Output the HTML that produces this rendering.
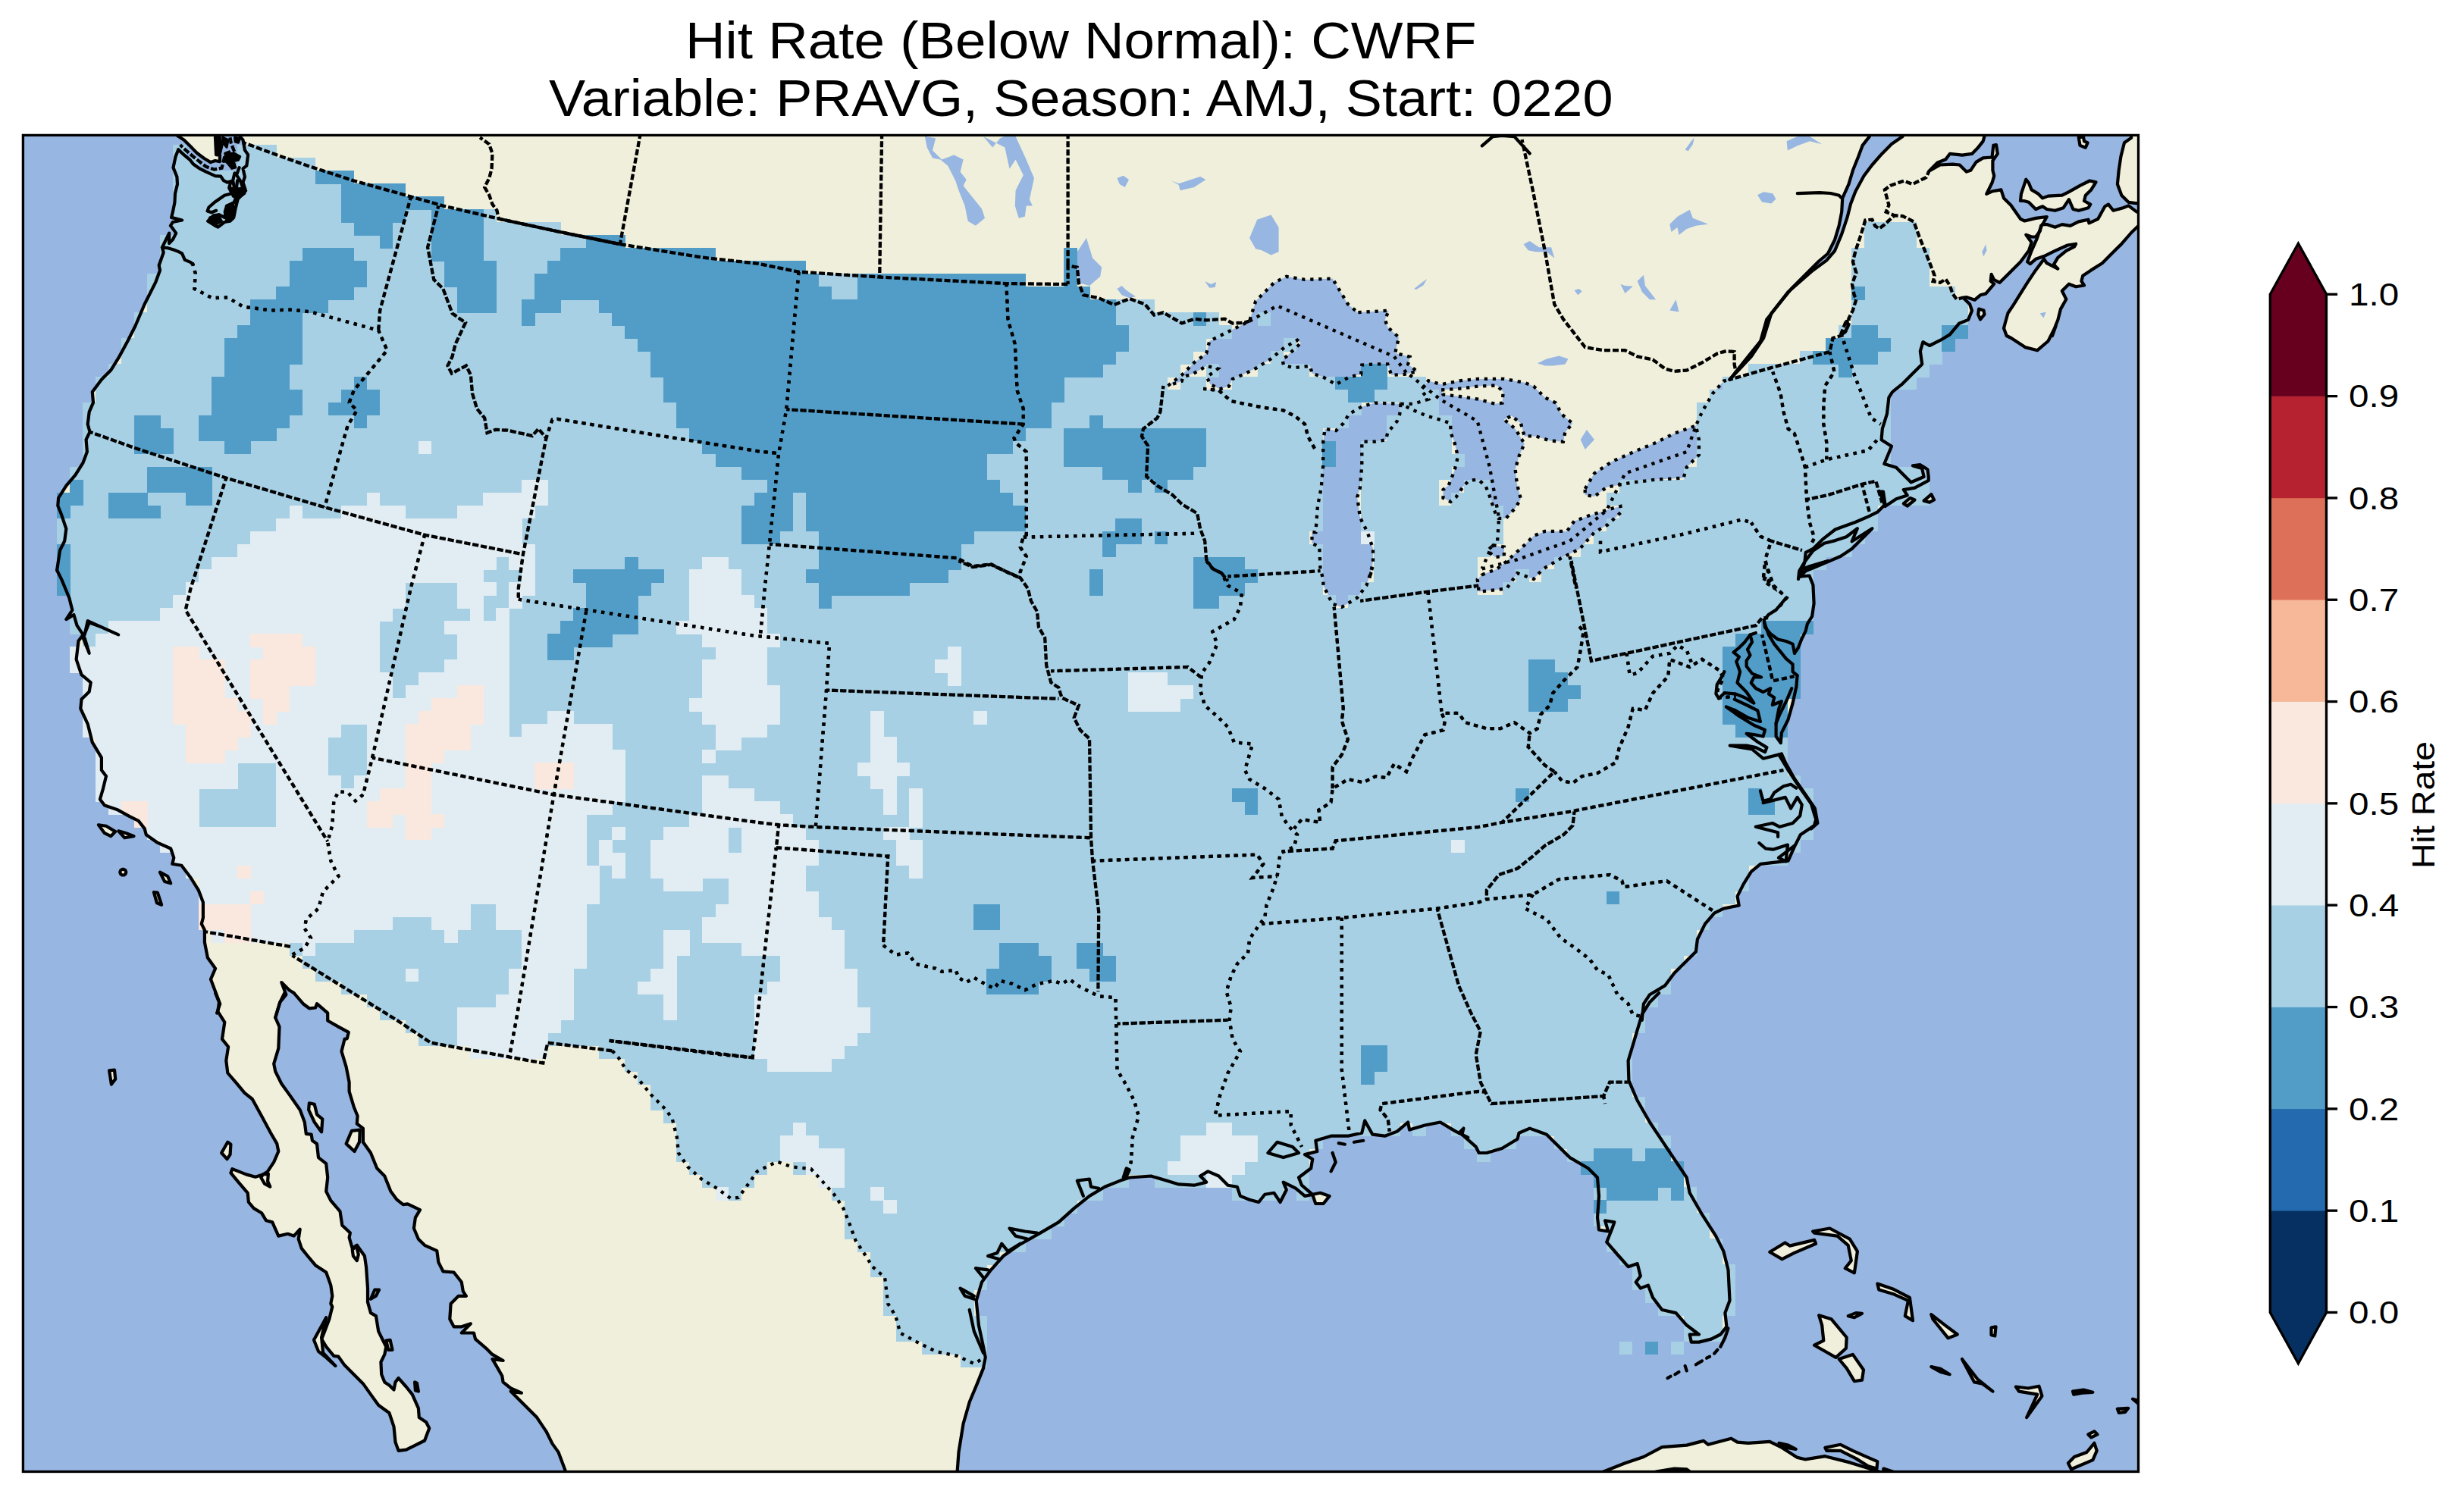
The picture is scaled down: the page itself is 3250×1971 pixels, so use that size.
<!DOCTYPE html>
<html><head><meta charset="utf-8"><title>Hit Rate (Below Normal): CWRF</title>
<style>
html,body{margin:0;padding:0;background:#fff;}
body{width:3250px;height:1971px;position:relative;overflow:hidden;font-family:"Liberation Sans",sans-serif;color:#000;}
.t{position:absolute;white-space:nowrap;line-height:1;transform-origin:0 0;}
</style></head><body>
<svg xmlns="http://www.w3.org/2000/svg" width="3250" height="1971" viewBox="0 0 3250 1971" style="position:absolute;left:0;top:0">
<defs><clipPath id="fr"><rect x="30.4" y="178.4" width="2790.1" height="1763.1"/></clipPath></defs>
<g clip-path="url(#fr)">
<rect x="0" y="150" width="2900" height="1821" fill="#97b6e1"/>
<path d="M312.5,161.9 320.5,177.3 320.5,184.6 304.6,239.4 299.8,240.6 294.9,238.2 291.2,232.7 283.9,232.1 271.8,226.6 263.2,222.4 254.7,216.3 251.1,211.4 242.5,204.1 235.2,197.4 231.6,206.5 228.5,221.1 233.4,233.3 234,243.1 231,255.2 230.4,267.4 227.9,279.6 226.1,286.9 240.1,290.5 227.9,293 224.9,297.8 227.9,301.5 232.2,307.6 227.9,316.1 223.1,321 223.1,307.6 213.9,326.5 215.7,333.1 209.7,350 211,356.7 205,372.9 190.7,401.3 178.6,429.7 168.4,450 156.2,472.4 146.1,488.6 133.9,500.8 121.8,517 123,531.2 117.7,543.4 115.7,559.6 118.5,569.8 113.6,579.9 114.9,596.1 109.6,610.3 99.4,626.6 87.3,640.8 77.1,657 76.3,667.2 81.2,679.3 87.3,697.6 85.2,713.8 79.1,726 75.1,752.4 75.1,752.2 81.2,764.4 91.3,788.7 95.4,804.9 87.3,817.1 97.4,811 101.5,825.2 109.6,837.4 103.5,845.5 100.6,869.9 107.5,890.2 119.7,900.3 117.7,912.5 107.5,922.6 106.3,934.8 115.7,955.1 121.8,979.4 133.9,999.7 133.9,1016 140,1024.1 136,1040.3 131.9,1054.5 138,1062.6 154.2,1067.9 170.5,1076.9 182.6,1082.9 190.7,1093.1 192.8,1101.2 207,1111.3 225.2,1119.5 229.3,1131.6 227.3,1139.8 239.4,1141.8 251.6,1158 261.8,1174.3 267.9,1190.5 267.9,1210.8 265.8,1218.9 269.9,1227 269.9,1243.2 273.9,1263.5 284.1,1277.7 278,1291.9 284.1,1310 289,1322.2 287.3,1334.4 296.3,1348.6 293,1370.9 301.1,1381 298.3,1399.3 300.3,1415.5 312.5,1429.7 322.6,1441.9 332.8,1450 345,1472.3 357.1,1494.7 365.3,1508.9 367.3,1519 361.2,1533.2 353.1,1545.4 347,1549.4 336.9,1552.7 324.7,1549.4 306.4,1542.1 304.4,1547.4 314.5,1559.6 326.7,1573.8 327.9,1586 334.8,1594.1 345,1600.2 351.1,1610.3 359.2,1612.4 367.3,1630.6 379.5,1627.8 387.6,1630.6 395.7,1621.7 393.7,1634.7 397.7,1646.9 405.8,1657 416,1669.2 430.2,1678.5 436.3,1695.6 438.3,1709.8 436.3,1719.9 438.3,1724 434.3,1740.2 428.2,1756.4 424.1,1766.6 430.2,1776.7 440.3,1788.9 446.4,1789.7 454.5,1801.1 466.7,1813.2 478.9,1825.4 489,1839.6 499.2,1853.8 513.4,1864 519.5,1882.2 521.5,1902.5 525.6,1913.9 535.7,1912.7 547.9,1906.6 560.1,1900.5 566.2,1884.3 562.1,1876.2 552.8,1870.1 551.9,1857.9 543.8,1839.6 535.7,1829.5 525.6,1818.1 521.5,1823.4 519.5,1833.5 513.4,1827.5 507.3,1823.4 503.2,1813.2 502.4,1797 507.3,1786.9 509.3,1776.7 503.2,1764.5 499.2,1756.4 495.9,1736.1 489,1732.1 485,1717.9 485,1699.6 483,1671.2 480.9,1657 470.8,1642.8 464.7,1646.9 460.6,1632.6 461.9,1626.6 451.3,1616.4 448.5,1598.1 436.3,1583.9 430.2,1571.8 432.2,1553.5 430.2,1535.2 420,1527.1 418,1508.9 411.9,1504.8 410.7,1496.7 403.8,1495.9 401.8,1480.5 395.7,1464.2 381.5,1443.9 371.3,1429.7 363.2,1413.5 361.2,1403.3 367.3,1383.1 368.5,1354.6 363.2,1342.5 369.3,1322.2 377.4,1312.2 371.3,1296 381.5,1306.2 387.6,1310 399.8,1324.2 407.9,1330.3 416,1329.5 418,1324.2 432.2,1336.4 432.2,1346.5 446.4,1354.6 459.8,1361.9 457.8,1370.1 454.5,1370.9 450.5,1387.1 456.6,1407.4 460.6,1427.7 460.6,1439.9 466.7,1460.2 471.6,1472.3 470.8,1482.5 478.9,1488.6 478.9,1506.8 489,1521 497.2,1541.3 507.3,1551.5 515.4,1571.8 523.5,1582.7 531.7,1589.2 537.7,1588.4 554,1596.1 547.9,1606.3 545.9,1620.5 551.9,1634.7 560.1,1642.8 576.3,1650.1 578.3,1665.1 584.4,1677.3 598.6,1678.5 608.8,1691.5 610.8,1703.7 614.9,1709.8 604.7,1709.8 594.6,1719.9 593.3,1740.2 598.6,1750.3 608.8,1750.3 620.9,1746.3 608.8,1758.5 625,1758.5 627,1766.6 641.2,1778.8 649.4,1786.9 663.6,1795 649.4,1793 655.4,1803.1 662.3,1815.3 663.6,1823.4 673.7,1831.5 687.9,1837.6 673.7,1835.6 689.9,1851.8 708.2,1870.1 720.4,1888.3 728.5,1904.6 736.6,1915.9 746.8,1943.1 1262.5,1943.1 1264.5,1915.9 1270.6,1878.2 1278.7,1849.8 1288.9,1825.4 1297,1805.1 1299.8,1790.9 1297,1776.7 1290.9,1748.3 1287.7,1715.8 1295,1691.5 1307.1,1675.3 1323.4,1657 1343.7,1642.8 1372.1,1626.6 1396.4,1612.4 1416.7,1594.1 1437,1577.9 1457.3,1565.7 1477.6,1557.6 1489.8,1553.5 1518.2,1551.5 1538.5,1557.6 1554.7,1562.4 1575,1563.7 1591.2,1559.6 1583.1,1551.5 1593.3,1545.4 1607.5,1551.5 1619.6,1563.7 1631.8,1565.7 1635.9,1577.9 1648.1,1582.7 1660.2,1586 1668.3,1575.8 1680.5,1573.8 1688.6,1586 1696.8,1569.7 1692.7,1559.6 1708.9,1567.7 1721.1,1577.9 1741.4,1573.8 1753.6,1577.9 1745.5,1588 1735.3,1588 1731.2,1575.8 1717,1563.7 1713,1553.5 1729.2,1541.3 1731.2,1529.2 1721.1,1523.1 1737.3,1519 1735.3,1504.8 1755.6,1498.7 1777.9,1498.7 1796.2,1494.7 1800.2,1478.4 1810.4,1496.7 1826.6,1498.7 1842.9,1492.6 1857.1,1480.5 1859.1,1490.6 1879.4,1484.5 1899.7,1480.5 1920,1492.6 1936.2,1500.7 1924.4,1494.7 1930.4,1488.6 1928.4,1496.7 1946.7,1512.9 1950.7,1521 1960.9,1521 1981.2,1515 2001.5,1502.8 2003.5,1494.7 2017.7,1488.6 2040,1496.7 2070.5,1527.1 2094.8,1541.3 2107,1553.5 2109,1577.9 2107,1606.3 2109,1622.5 2121.2,1624.5 2117.1,1610.3 2129.3,1612.4 2127.3,1618.4 2119.2,1638.7 2133.4,1655 2147.6,1671.2 2159.7,1667.1 2163.8,1683.4 2157.7,1691.5 2163.8,1699.6 2173.9,1695.6 2180,1711.8 2192.2,1728 2210.5,1732.1 2224.7,1748.3 2240.9,1760.5 2228.7,1760.5 2230.8,1770.6 2240.9,1770.6 2257.1,1766.6 2269.3,1760.5 2277.4,1750.3 2275.4,1732.1 2281.5,1715.8 2279.5,1675.3 2273.4,1650.9 2263.2,1630.6 2245,1602.2 2228.7,1573.8 2224.7,1553.5 2208.4,1529.2 2192.2,1504.8 2176,1480.5 2159.7,1452 2148.4,1425.7 2147.6,1399.3 2153.7,1379 2159.7,1358.7 2165.8,1338.4 2176,1322.2 2188.1,1310 2196.3,1300.1 2208.4,1283.8 2224.7,1267.6 2236.9,1255.4 2238.9,1239.2 2249,1218.9 2261.2,1204.7 2273.4,1198.6 2293.7,1194.5 2291.6,1182.4 2299.8,1166.1 2309.9,1149.9 2322.1,1139.8 2358.6,1135.7 2366.7,1117.4 2374.8,1101.2 2393.1,1089 2395.1,1080.9 2389,1060.6 2374.8,1040.3 2358.6,1016 2346.4,995.7 2348.7,980 2349.9,966.6 2358.5,949.5 2364.6,927.6 2369.4,905.7 2370.6,891.1 2364.6,886.2 2364.6,876.4 2356,869.1 2340.2,849.6 2332.9,837.5 2326.8,820.4 2349.9,796 2342.6,804.6 2332.9,810.7 2326.8,818 2328,827.7 2335.3,836.2 2345.1,843.5 2356,846 2364.6,849.6 2367,861.8 2371.9,854.5 2376.7,842.3 2381.6,832.6 2384,822.8 2390.1,813.1 2392.6,796 2391.4,771.7 2386.5,759.5 2373.1,760.7 2374.3,752.2 2386.5,747.3 2410.8,740 2373.2,753.3 2380.5,741.1 2381.7,728.9 2391.5,724 2403.6,711.9 2420.7,698.5 2447.5,688.7 2464.6,681.4 2476.7,675.3 2486.5,665.6 2484,648.5 2479.2,648.5 2486.5,668 2501.1,658.3 2515.7,653.4 2510.8,646.1 2525.5,643.6 2543.7,633.9 2543.7,629 2542.5,619.3 2532.8,613.2 2523,614.4 2535.2,618.1 2537.6,629 2520.6,636.3 2510.8,626.6 2501.1,616.8 2485.3,612 2495,588.8 2481.6,580.3 2482.8,565.7 2488.9,546.2 2491.4,524.3 2496.2,516.9 2508.4,507.2 2520.6,495 2535.2,480.4 2532.8,463.3 2536.4,451.2 2545,456 2559.6,448.7 2571.8,441.4 2583.9,426.8 2596.1,421.9 2601,409.7 2598.1,401.3 2589.9,393.2 2593.7,392 2604.7,395.7 2612,389.3 2619.3,387.4 2630.2,374.7 2625.7,371 2626.6,361.9 2630.2,369.2 2637.6,372.8 2646.7,363.7 2657.7,352.7 2665,345.4 2675.9,330.8 2679.6,319.8 2672.3,309.8 2679.6,312.5 2685.1,312.5 2690.5,305.2 2692.4,297.9 2686.9,314.4 2679.6,330.8 2674.1,345.4 2677.8,348.2 2685.1,341.8 2696,338.1 2710.6,330.8 2727.1,323.5 2738.1,321.7 2736.2,325.3 2725.3,330.8 2714.3,339.9 2708.8,349.1 2714.3,354.6 2699.7,347.2 2696,341.8 2685.1,356.4 2674.1,372.8 2665,387.4 2655.8,402.1 2648.5,413 2644.9,425.8 2643,433.1 2646.7,443 2652.8,446 2671.1,458.1 2687.3,462.2 2701.5,450 2711.7,429.7 2707,443 2710.6,431.3 2714.3,422.2 2718,407.6 2725.3,394.8 2719.8,383.8 2728.9,374.7 2738.1,378.3 2749,376.5 2745.4,371 2747.2,363.7 2758.2,356.4 2772.8,347.2 2783.7,336.3 2798.4,321.7 2811.1,307 2820.5,297.9 2827.6,296.1 2827.6,279.6 2818.5,279.6 2807.5,271.4 2800.2,274.2 2787.4,277.8 2781,269.6 2776.4,272.3 2767.3,288.8 2755.4,294.3 2754.5,289.7 2741.7,292.4 2730.7,297.9 2719.8,296.1 2710.6,299.7 2699.7,296.1 2694.2,296.1 2699.7,286 2685.1,287.9 2670.4,291.5 2665,288.8 2652.2,270.5 2643,261.4 2639.4,250.4 2628.4,252.2 2620.2,255.9 2627.5,241.3 2630.2,232.1 2628.4,224.8 2628.4,212 2634.8,202.9 2633,191 2629.3,191.9 2627.5,207.5 2615.6,208.4 2606.5,213.9 2599.2,224.8 2593.7,226.6 2584.6,217.5 2575.4,216.6 2559,217.5 2544.4,225.7 2555.3,214.8 2566.3,210.2 2571.8,202.9 2588.2,204.7 2601,202.9 2608.3,195.6 2615.6,186.4 2617.4,180.1 2617.4,151.7Z" fill="#efefdb"/>
<path d="M227.9,177.3 320.5,177.3 322.9,198 327.2,204.1 325.3,218.7 320.5,222.4 309.5,228.4 307.1,238.2 304.6,239.4 299.8,240.6 294.9,238.2 291.2,232.7 283.9,232.1 271.8,226.6 263.2,222.4 254.7,216.3 251.1,211.4 242.5,204.1 235.2,197.4 227.9,191.9Z" fill="#97b6e1"/>
<path d="M234,179.1 242.5,184.6 251.1,193.1 259.6,201.7 269.3,209 277.8,214.1 283.9,212 289.8,213.2 290,204.7 285.1,204.1 283.9,179.1 283.9,163.9 234,163.9Z" fill="#efefdb"/>
<path d="M2811.1,160.9 2811.1,181.9 2802,188.3 2797.4,206.5 2794.7,224.8 2792.9,243.1 2798.4,257.7 2807.5,266.8 2827.6,269.6 2827.6,160.9Z" fill="#efefdb"/>
<path d="M1540.5,508.9 1558.8,494.7 1575,478.4 1591.2,466.3 1595.3,450 1623.7,435.8 1648.1,423.7 1656.2,397.3 1680.5,372.9 1696.8,364.8 1721.1,368.9 1757.6,367.6 1765.7,381 1777.9,401.3 1790.1,411.5 1789,412.2 1811,411 1831.7,409.7 1826.8,421.9 1830.4,431.7 1845.1,445.1 1840.2,465.8 1859.7,470.7 1857.2,480.4 1869.4,490.1 1852.4,493.8 1835.3,495 1830.4,480.4 1813.4,480.4 1796.3,481.6 1795.1,493.8 1779.3,497.5 1762.2,507.2 1745.2,497.5 1730.5,492.6 1728.1,482.8 1706.2,485.3 1692.8,481.6 1691.6,473.1 1696.4,470.7 1715.9,452.4 1711.1,448.7 1694,458.5 1676.9,473.1 1657.5,485.3 1640.4,493.8 1625.8,499.9 1620.9,509.6 1608.7,513.3 1596.5,507.2 1591.7,497.5 1606.3,486.5 1591.7,482.8 1574.6,492.6 1560,497.5 1558.8,502.8Z" fill="#97b6e1"/>
<path d="M1847.5,532.8 1846.3,546.2 1842.6,555.9 1830.4,570.5 1828,580.3 1813.4,582.7 1796.3,582.7 1796.3,614.4 1793.9,643.6 1790.2,655.8 1793.9,682.6 1803.6,702.1 1811,724 1811,741.1 1806.1,764 1810.4,748.1 1802.3,772.5 1790.1,788.7 1769.8,800.9 1757.6,796.8 1745.5,772.5 1745.2,764 1741.5,750.8 1740.3,721.6 1730.5,716.7 1730.5,702.1 1735.4,702.1 1737.9,668 1742.7,643.6 1745.2,614.4 1745.2,582.7 1747.6,565.7 1762.2,568.1 1772,558.4 1779.3,546.2 1796.3,536.4 1813.4,531.6Z" fill="#97b6e1"/>
<path d="M1847.5,532.8 1864.6,532.8 1884,526.7 1874.3,514.5 1884,502.3 1901.1,507.2 1925.5,502.3 1949.8,499.9 1983.9,499.9 2010.7,504.8 2022.9,509.6 2037.5,524.3 2052.2,531.6 2059.5,546.2 2074.1,558.4 2064.3,570.5 2061.9,582.7 2044.8,581.5 2025.4,575.4 2010.7,575.4 2005.9,558.4 1993.7,548.6 1983.9,553.5 1998.6,565.7 2010.7,585.2 2003.4,602.2 1998.6,619.3 2001,638.8 2005.9,658.3 1998.6,670.4 1986.4,683.8 1976.6,683.8 1971.8,675.3 1964.4,653.4 1959.6,641.2 1949.8,632.7 1937.6,633.9 1930.3,641.2 1920.6,655.8 1913.3,661.9 1903.5,657 1903.5,646.1 1910.8,640 1918.2,621.7 1923,602.2 1918.2,582.7 1913.3,570.5 1913.3,558.4 1898.7,553.5 1881.6,548.6 1864.6,541.3Z" fill="#97b6e1"/>
<path d="M1969.3,719.2 1983.9,721.6 1983.9,733.8 1971.8,735 1962,726.5Z" fill="#97b6e1"/>
<path d="M1954.7,758.2 1974.2,750.8 1986.4,741.1 2010.7,719.2 2022.9,707 2037.5,700.9 2066.8,700.9 2076.5,687.5 2096,680.2 2127.7,670.4 2137.4,668 2138.6,675.3 2120.4,692.4 2103.3,702.1 2083.8,724 2059.5,736.2 2035.1,750.8 2022.9,764 2001.5,756.2 1987.3,776.5 1969,778.6 1950.7,780.6 1948.7,764.4Z" fill="#97b6e1"/>
<path d="M2090.7,644.8 2102.9,624.5 2127.3,608.3 2159.7,594.1 2184.1,584 2208.4,571.8 2236.9,561.6 2240.9,579.9 2240.9,600.2 2224.7,616.4 2220.6,630.6 2184.1,632.7 2151.6,636.7 2119.2,642.8 2102.9,655 2090.7,653Z" fill="#97b6e1"/>
<path d="M2236.9,561.6 2245,543.4 2259.2,519 2273.4,502.8 2281.5,500.8 2285.6,503.6 2265.3,523.1 2249.8,547.4 2242.9,565.7Z" fill="#97b6e1"/>
<path d="M2281.5,500.8 2305.8,470.3 2322.1,450 2330.2,421.6 2346.4,401.3 2362.7,381 2378.9,364.8 2399.2,344.5 2411,334.5 2420.1,316.2 2425.6,297.9 2429.2,279.6 2430.2,261.4 2438.4,243.1 2443.9,224.8 2451.2,206.5 2456.6,191.9 2465.8,180.1 2469.4,160.9 2516.9,160.9 2509.6,180.1 2495,190.1 2482.2,202.9 2469.4,217.5 2458.5,232.1 2447.5,252.2 2441.1,268.7 2436.5,286.9 2429.2,308.9 2420.1,330.8 2409.1,343.6 2391.1,356.7 2358.6,385.1 2336.3,413.5 2326.1,446 2309.9,470.3 2281.5,500.8Z" fill="#97b6e1"/>
<path d="M1901.1,514.5 1925.5,512.6 1949.8,509.6 1974.2,508.4 1982.7,516.9 1981.5,531.6 1971.8,532.8 1949.8,526.7 1925.5,523 1903.5,520.6Z" fill="#efefdb"/>
<path d="M1219.9,180.1 1234.1,182.2 1230,198.4 1242.2,210.6 1258.4,204.5 1270.6,210.6 1266.6,226.8 1274.7,237 1270.6,245.1 1278.7,255.2 1295,275.5 1299,287.7 1286.9,297.8 1276.7,291.8 1272.6,271.5 1264.5,251.2 1260.5,239 1250.3,218.7 1240.2,210.6 1230,208.6 1222.7,194.4Z" fill="#97b6e1"/>
<path d="M1297,180.1 1309.2,194.4 1319.3,182.2 1327.4,178.9 1339.6,180.1 1351.8,206.5 1364,234.9 1357.9,263.3 1361.9,271.5 1353.8,271.5 1351.8,285.7 1343.7,287.7 1338.8,271.5 1339.6,251.2 1349.8,230.9 1339.6,210.6 1331.5,222.8 1325.4,194.4Z" fill="#97b6e1"/>
<path d="M1420.8,332.3 1433,314.1 1441.1,340.5 1453.2,352.6 1451.2,364.8 1437,377 1422.8,372.9 1420.8,348.6Z" fill="#97b6e1"/>
<path d="M1648.1,314.1 1658.2,289.7 1676.5,283.6 1686.6,299.9 1686.6,332.3 1676.5,336.4 1664.3,330.3 1656.2,328.3Z" fill="#97b6e1"/>
<path d="M1473.5,234.9 1481.7,231.7 1489,237 1483.7,247.1 1476.8,243.1Z" fill="#97b6e1"/>
<path d="M1544.6,238.2 1554.7,242.2 1583.1,232.9 1590.4,237 1575,247.1 1556.7,251.2 1554.7,243.9Z" fill="#97b6e1"/>
<path d="M1589.2,370.9 1597.3,375 1604.2,372.1 1602.6,379 1595.3,379.8Z" fill="#97b6e1"/>
<path d="M1865.2,381 1875.3,372.9 1882.2,368.1 1877.4,376.2 1868,381.9Z" fill="#97b6e1"/>
<path d="M1473.5,381 1479.6,377 1485.7,383.1 1497.9,391.2 1489.8,393.2 1479.6,389.2Z" fill="#97b6e1"/>
<path d="M2318,257.3 2326.1,253.2 2338.3,255.2 2342.4,262.5 2336.3,268.6 2324.1,266.6Z" fill="#97b6e1"/>
<path d="M2202.4,295.8 2212.5,285.7 2228.7,276.7 2232.8,287.7 2253.1,295.8 2236.9,297.8 2224.7,301.9 2214.5,310 2212.5,299.9 2204.4,306Z" fill="#97b6e1"/>
<path d="M2009.6,322.2 2017.7,318.1 2029.9,326.2 2046.1,326.2 2050.2,340.5 2040,332.3 2025.8,332.3 2015.7,330.3Z" fill="#97b6e1"/>
<path d="M2137.4,375 2143.5,377 2153.7,377.8 2143.5,387.1Z" fill="#97b6e1"/>
<path d="M2159.7,370.9 2167.9,362.8 2169.9,377 2184.1,395.2 2176,395.2 2165.8,385.1Z" fill="#97b6e1"/>
<path d="M2202.4,409.4 2210.5,395.2 2214.5,411.5Z" fill="#97b6e1"/>
<path d="M2076.5,383.1 2082.6,381 2086.7,384.3 2081.4,389.2Z" fill="#97b6e1"/>
<path d="M2027.8,479.3 2040,473.6 2056.2,469.5 2068.4,473.6 2064.4,480.5 2048.1,482.5 2038,482.5Z" fill="#97b6e1"/>
<path d="M2084.7,579.9 2092.8,566.9 2102.9,579.9 2090.7,592.9Z" fill="#97b6e1"/>
<path d="M2356.6,186.2 2370.8,180.1 2387,180.1 2403.2,190.3 2387,186.2 2370.8,192.3 2357.8,198.4Z" fill="#97b6e1"/>
<path d="M2614.3,332.3 2619.2,322.2 2620.4,330.3 2616.3,338.4Z" fill="#97b6e1"/>
<path d="M2690.6,413.5 2698.7,411.5 2695.5,419.6Z" fill="#97b6e1"/>
<path d="M2222.6,197.6 2230.8,186.2 2234.8,181.4 2232.8,190.3 2226.7,199.2Z" fill="#97b6e1"/>
<path d="M228.2,191.4H245.8V209H228.2ZM313.3,191.4H365V209H313.3ZM228.2,208.4H262.9V225.9H228.2ZM313.3,208.4H416.1V225.9H313.3ZM228.2,225.3H416.1V242.9H228.2ZM228.2,242.3H450.2V259.9H228.2ZM228.2,259.3H450.2V276.9H228.2ZM228.2,276.3H450.2V293.8H228.2ZM534.7,276.3H569.4V293.8H534.7ZM636.9,276.3H654.5V293.8H636.9ZM228.2,293.2H467.2V310.8H228.2ZM517.7,293.2H569.4V310.8H517.7ZM636.9,293.2H739.7V310.8H636.9ZM2459.1,293.2H2527.9V310.8H2459.1ZM211.2,310.2H501.3V327.8H211.2ZM517.7,310.2H569.4V327.8H517.7ZM636.9,310.2H773.8V327.8H636.9ZM2459.1,310.2H2527.9V327.8H2459.1ZM211.2,327.2H399.1V344.7H211.2ZM466.6,327.2H569.4V344.7H466.6ZM636.9,327.2H739.7V344.7H636.9ZM2442.1,327.2H2544.9V344.7H2442.1ZM211.2,344.1H382.1V361.7H211.2ZM483.7,344.1H586.4V361.7H483.7ZM654,344.1H722.7V361.7H654ZM2442.1,344.1H2544.9V361.7H2442.1ZM194.1,361.1H382.1V378.7H194.1ZM483.7,361.1H586.4V378.7H483.7ZM654,361.1H705.6V378.7H654ZM1079.7,361.1H1131.4V378.7H1079.7ZM2442.1,361.1H2544.9V378.7H2442.1ZM194.1,378.1H365V395.7H194.1ZM466.6,378.1H603.5V395.7H466.6ZM654,378.1H705.6V395.7H654ZM1096.7,378.1H1131.4V395.7H1096.7ZM2459.1,378.1H2578.9V395.7H2459.1ZM194.1,395.1H331V412.6H194.1ZM432.6,395.1H603.5V412.6H432.6ZM654,395.1H688.6V412.6H654ZM739.1,395.1H790.8V412.6H739.1ZM1471.4,395.1H1523.1V412.6H1471.4ZM2442.1,395.1H2596V412.6H2442.1ZM177.1,412H331V429.6H177.1ZM398.5,412H688.6V429.6H398.5ZM705,412H807.8V429.6H705ZM1471.4,412H1574.2V429.6H1471.4ZM1590.6,412H1608.2V429.6H1590.6ZM1658.7,412H1676.4V429.6H1658.7ZM2442.1,412H2596V429.6H2442.1ZM177.1,429H313.9V446.6H177.1ZM398.5,429H824.9V446.6H398.5ZM1488.4,429H1625.3V446.6H1488.4ZM2425.1,429H2442.7V446.6H2425.1ZM2476.2,429H2561.9V446.6H2476.2ZM160.1,446H296.9V463.5H160.1ZM398.5,446H841.9V463.5H398.5ZM1488.4,446H1591.2V463.5H1488.4ZM1692.8,446H1710.4V463.5H1692.8ZM2493.2,446H2561.9V463.5H2493.2ZM160.1,462.9H296.9V480.5H160.1ZM398.5,462.9H858.9V480.5H398.5ZM1471.4,462.9H1574.2V480.5H1471.4ZM1675.8,462.9H1693.4V480.5H1675.8ZM2374,462.9H2391.6V480.5H2374ZM2476.2,462.9H2561.9V480.5H2476.2ZM143.1,479.9H296.9V497.5H143.1ZM381.5,479.9H858.9V497.5H381.5ZM1454.4,479.9H1557.1V497.5H1454.4ZM1590.6,479.9H1608.2V497.5H1590.6ZM1658.7,479.9H1727.4V497.5H1658.7ZM2305.9,479.9H2425.7V497.5H2305.9ZM2442.1,479.9H2544.9V497.5H2442.1ZM126,496.9H279.9V514.4H126ZM381.5,496.9H467.2V514.4H381.5ZM483.7,496.9H875.9V514.4H483.7ZM1403.3,496.9H1540.1V514.4H1403.3ZM1556.5,496.9H1591.2V514.4H1556.5ZM1624.7,496.9H1761.5V514.4H1624.7ZM1829,496.9H1880.7V514.4H1829ZM2271.8,496.9H2527.9V514.4H2271.8ZM126,513.9H279.9V531.4H126ZM398.5,513.9H450.2V531.4H398.5ZM500.7,513.9H875.9V531.4H500.7ZM1403.3,513.9H1778.5V531.4H1403.3ZM1812,513.9H1897.7V531.4H1812ZM2254.8,513.9H2493.8V531.4H2254.8ZM109,530.8H279.9V548.4H109ZM398.5,530.8H433.2V548.4H398.5ZM500.7,530.8H893V548.4H500.7ZM1386.2,530.8H1795.6V548.4H1386.2ZM1846.1,530.8H1897.7V548.4H1846.1ZM2237.7,530.8H2493.8V548.4H2237.7ZM109,547.8H177.7V565.4H109ZM211.2,547.8H262.9V565.4H211.2ZM381.5,547.8H467.2V565.4H381.5ZM483.7,547.8H893V565.4H483.7ZM1386.2,547.8H1437.9V565.4H1386.2ZM1454.4,547.8H1778.5V565.4H1454.4ZM1829,547.8H1914.8V565.4H1829ZM2237.7,547.8H2493.8V565.4H2237.7ZM109,564.8H177.7V582.3H109ZM228.2,564.8H262.9V582.3H228.2ZM364.4,564.8H910V582.3H364.4ZM1352.2,564.8H1403.9V582.3H1352.2ZM1590.6,564.8H1744.5V582.3H1590.6ZM1829,564.8H1914.8V582.3H1829ZM2237.7,564.8H2493.8V582.3H2237.7ZM109,581.7H177.7V599.3H109ZM228.2,581.7H296.9V599.3H228.2ZM330.4,581.7H552.4V599.3H330.4ZM568.8,581.7H927V599.3H568.8ZM1335.2,581.7H1403.9V599.3H1335.2ZM1590.6,581.7H1744.5V599.3H1590.6ZM1795,581.7H1914.8V599.3H1795ZM2237.7,581.7H2493.8V599.3H2237.7ZM109,598.7H944.1V616.3H109ZM1301.1,598.7H1403.9V616.3H1301.1ZM1590.6,598.7H1744.5V616.3H1590.6ZM1795,598.7H1931.8V616.3H1795ZM2237.7,598.7H2493.8V616.3H2237.7ZM92,615.7H194.7V633.2H92ZM279.3,615.7H978.1V633.2H279.3ZM1301.1,615.7H1455V633.2H1301.1ZM1573.6,615.7H1744.5V633.2H1573.6ZM1795,615.7H1914.8V633.2H1795ZM2220.7,615.7H2544.9V633.2H2220.7ZM109,632.6H194.7V650.2H109ZM279.3,632.6H688.6V650.2H279.3ZM722.1,632.6H1012.2V650.2H722.1ZM1318.1,632.6H1489V650.2H1318.1ZM1505.5,632.6H1523.1V650.2H1505.5ZM1539.5,632.6H1744.5V650.2H1539.5ZM1795,632.6H1897.7V650.2H1795ZM1931.2,632.6H1965.9V650.2H1931.2ZM2135.6,632.6H2544.9V650.2H2135.6ZM109,649.6H143.7V667.2H109ZM194.1,649.6H245.8V667.2H194.1ZM279.3,649.6H484.3V667.2H279.3ZM500.7,649.6H637.5V667.2H500.7ZM722.1,649.6H995.1V667.2H722.1ZM1045.6,649.6H1063.3V667.2H1045.6ZM1335.2,649.6H1744.5V667.2H1335.2ZM1795,649.6H1897.7V667.2H1795ZM1914.2,649.6H1965.9V667.2H1914.2ZM2118.5,649.6H2544.9V667.2H2118.5ZM92,666.6H143.7V684.2H92ZM211.2,666.6H382.1V684.2H211.2ZM398.5,666.6H450.2V684.2H398.5ZM534.7,666.6H603.5V684.2H534.7ZM705,666.6H978.1V684.2H705ZM1045.6,666.6H1063.3V684.2H1045.6ZM1352.2,666.6H1744.5V684.2H1352.2ZM1795,666.6H1982.9V684.2H1795ZM2135.6,666.6H2476.8V684.2H2135.6ZM74.9,683.6H365V701.1H74.9ZM688,683.6H978.1V701.1H688ZM1045.6,683.6H1063.3V701.1H1045.6ZM1352.2,683.6H1472V701.1H1352.2ZM1505.5,683.6H1744.5V701.1H1505.5ZM1795,683.6H1982.9V701.1H1795ZM2118.5,683.6H2476.8V701.1H2118.5ZM74.9,700.5H331V718.1H74.9ZM688,700.5H978.1V718.1H688ZM1028.6,700.5H1080.3V718.1H1028.6ZM1284.1,700.5H1455V718.1H1284.1ZM1505.5,700.5H1523.1V718.1H1505.5ZM1539.5,700.5H1727.4V718.1H1539.5ZM1812,700.5H1982.9V718.1H1812ZM2101.5,700.5H2459.7V718.1H2101.5ZM92,717.5H313.9V735.1H92ZM705,717.5H1080.3V735.1H705ZM1267,717.5H1455V735.1H1267ZM1471.4,717.5H1744.5V735.1H1471.4ZM1812,717.5H1965.9V735.1H1812ZM2084.5,717.5H2442.7V735.1H2084.5ZM92,734.5H279.9V752H92ZM654,734.5H671.6V752H654ZM705,734.5H824.9V752H705ZM841.3,734.5H927V752H841.3ZM960.5,734.5H1080.3V752H960.5ZM1267,734.5H1574.2V752H1267ZM1641.7,734.5H1744.5V752H1641.7ZM1812,734.5H1948.8V752H1812ZM2050.4,734.5H2408.6V752H2050.4ZM92,751.4H262.9V769H92ZM636.9,751.4H688.6V769H636.9ZM705,751.4H756.7V769H705ZM875.3,751.4H910V769H875.3ZM977.5,751.4H1063.3V769H977.5ZM1250,751.4H1437.9V769H1250ZM1454.4,751.4H1574.2V769H1454.4ZM1658.7,751.4H1744.5V769H1658.7ZM1812,751.4H1948.8V769H1812ZM1999.3,751.4H2017V769H1999.3ZM2033.4,751.4H2391.6V769H2033.4ZM92,768.4H245.8V786H92ZM534.7,768.4H603.5V786H534.7ZM654,768.4H671.6V786H654ZM705,768.4H773.8V786H705ZM858.3,768.4H910V786H858.3ZM977.5,768.4H1080.3V786H977.5ZM1198.9,768.4H1437.9V786H1198.9ZM1454.4,768.4H1574.2V786H1454.4ZM1641.7,768.4H1744.5V786H1641.7ZM1795,768.4H1948.8V786H1795ZM1982.3,768.4H2391.6V786H1982.3ZM92,785.4H228.8V803H92ZM534.7,785.4H603.5V803H534.7ZM636.9,785.4H671.6V803H636.9ZM688,785.4H773.8V803H688ZM841.3,785.4H910V803H841.3ZM994.6,785.4H1080.3V803H994.6ZM1096.7,785.4H1574.2V803H1096.7ZM1607.6,785.4H1761.5V803H1607.6ZM1777.9,785.4H2391.6V803H1777.9ZM92,802.4H211.8V819.9H92ZM517.7,802.4H620.5V819.9H517.7ZM636.9,802.4H654.5V819.9H636.9ZM671,802.4H756.7V819.9H671ZM841.3,802.4H910V819.9H841.3ZM1011.6,802.4H2391.6V819.9H1011.6ZM92,819.3H143.7V836.9H92ZM500.7,819.3H586.4V836.9H500.7ZM671,819.3H739.7V836.9H671ZM841.3,819.3H893V836.9H841.3ZM1011.6,819.3H2323.5V836.9H1011.6ZM109,836.3H126.6V853.9H109ZM500.7,836.3H603.5V853.9H500.7ZM671,836.3H722.7V853.9H671ZM807.2,836.3H927V853.9H807.2ZM1028.6,836.3H2289.4V853.9H1028.6ZM500.7,853.3H603.5V870.8H500.7ZM671,853.3H722.7V870.8H671ZM756.1,853.3H944.1V870.8H756.1ZM1011.6,853.3H1250.6V870.8H1011.6ZM1267,853.3H2272.4V870.8H1267ZM500.7,870.2H586.4V887.8H500.7ZM671,870.2H927V887.8H671ZM1011.6,870.2H1233.6V887.8H1011.6ZM1267,870.2H2017V887.8H1267ZM2050.4,870.2H2272.4V887.8H2050.4ZM517.7,887.2H552.4V904.8H517.7ZM671,887.2H927V904.8H671ZM1011.6,887.2H1250.6V904.8H1011.6ZM1267,887.2H1489V904.8H1267ZM1539.5,887.2H2017V904.8H1539.5ZM2067.4,887.2H2272.4V904.8H2067.4ZM517.7,904.2H535.3V921.8H517.7ZM671,904.2H927V921.8H671ZM1028.6,904.2H1489V921.8H1028.6ZM1573.6,904.2H2017V921.8H1573.6ZM2084.5,904.2H2272.4V921.8H2084.5ZM671,921.2H910V938.7H671ZM1028.6,921.2H1489V938.7H1028.6ZM1556.5,921.2H2017V938.7H1556.5ZM2067.4,921.2H2272.4V938.7H2067.4ZM671,938.1H722.7V955.7H671ZM756.1,938.1H927V955.7H756.1ZM1028.6,938.1H1148.4V955.7H1028.6ZM1164.9,938.1H1284.7V955.7H1164.9ZM1301.1,938.1H2272.4V955.7H1301.1ZM449.6,955.1H484.3V972.7H449.6ZM671,955.1H688.6V972.7H671ZM807.2,955.1H944.1V972.7H807.2ZM1011.6,955.1H1148.4V972.7H1011.6ZM1164.9,955.1H2289.4V972.7H1164.9ZM432.6,972.1H484.3V989.6H432.6ZM807.2,972.1H944.1V989.6H807.2ZM977.5,972.1H1148.4V989.6H977.5ZM1181.9,972.1H2357.6V989.6H1181.9ZM432.6,989H484.3V1006.6H432.6ZM824.3,989H927V1006.6H824.3ZM943.5,989H1148.4V1006.6H943.5ZM1181.9,989H2357.6V1006.6H1181.9ZM313.3,1006H365V1023.6H313.3ZM432.6,1006H484.3V1023.6H432.6ZM824.3,1006H1131.4V1023.6H824.3ZM1198.9,1006H2357.6V1023.6H1198.9ZM313.3,1023H365V1040.6H313.3ZM449.6,1023H467.2V1040.6H449.6ZM824.3,1023H927V1040.6H824.3ZM960.5,1023H1148.4V1040.6H960.5ZM1181.9,1023H2374.6V1040.6H1181.9ZM262.3,1040H365V1057.5H262.3ZM824.3,1040H927V1057.5H824.3ZM994.6,1040H1165.5V1057.5H994.6ZM1181.9,1040H1199.5V1057.5H1181.9ZM1215.9,1040H1625.3V1057.5H1215.9ZM1658.7,1040H1999.9V1057.5H1658.7ZM2016.4,1040H2306.5V1057.5H2016.4ZM2322.9,1040H2391.6V1057.5H2322.9ZM262.3,1056.9H365V1074.5H262.3ZM807.2,1056.9H927V1074.5H807.2ZM1028.6,1056.9H1165.5V1074.5H1028.6ZM1181.9,1056.9H1199.5V1074.5H1181.9ZM1215.9,1056.9H1642.3V1074.5H1215.9ZM1658.7,1056.9H2306.5V1074.5H1658.7ZM2339.9,1056.9H2391.6V1074.5H2339.9ZM262.3,1073.9H365V1091.5H262.3ZM773.2,1073.9H910V1091.5H773.2ZM1045.6,1073.9H1199.5V1091.5H1045.6ZM1215.9,1073.9H2391.6V1091.5H1215.9ZM773.2,1090.9H807.8V1108.4H773.2ZM824.3,1090.9H875.9V1108.4H824.3ZM960.5,1090.9H978.1V1108.4H960.5ZM1062.7,1090.9H1165.5V1108.4H1062.7ZM1198.9,1090.9H2391.6V1108.4H1198.9ZM773.2,1107.8H790.8V1125.4H773.2ZM807.2,1107.8H858.9V1125.4H807.2ZM960.5,1107.8H978.1V1125.4H960.5ZM1079.7,1107.8H1182.5V1125.4H1079.7ZM1215.9,1107.8H1914.8V1125.4H1215.9ZM1931.2,1107.8H2374.6V1125.4H1931.2ZM773.2,1124.8H790.8V1142.4H773.2ZM824.3,1124.8H858.9V1142.4H824.3ZM1079.7,1124.8H1182.5V1142.4H1079.7ZM1215.9,1124.8H2357.6V1142.4H1215.9ZM790.2,1141.8H807.8V1159.3H790.2ZM824.3,1141.8H858.9V1159.3H824.3ZM1062.7,1141.8H1199.5V1159.3H1062.7ZM1215.9,1141.8H2306.5V1159.3H1215.9ZM790.2,1158.7H875.9V1176.3H790.2ZM926.4,1158.7H961.1V1176.3H926.4ZM1062.7,1158.7H2306.5V1176.3H1062.7ZM790.2,1175.7H961.1V1193.3H790.2ZM1079.7,1175.7H2119.1V1193.3H1079.7ZM2135.6,1175.7H2289.4V1193.3H2135.6ZM619.9,1192.7H654.5V1210.3H619.9ZM773.2,1192.7H944.1V1210.3H773.2ZM1079.7,1192.7H1284.7V1210.3H1079.7ZM1318.1,1192.7H2272.4V1210.3H1318.1ZM517.7,1209.7H569.4V1227.2H517.7ZM619.9,1209.7H654.5V1227.2H619.9ZM773.2,1209.7H927V1227.2H773.2ZM1096.7,1209.7H1284.7V1227.2H1096.7ZM1318.1,1209.7H2255.4V1227.2H1318.1ZM466.6,1226.6H586.4V1244.2H466.6ZM602.9,1226.6H688.6V1244.2H602.9ZM773.2,1226.6H875.9V1244.2H773.2ZM909.4,1226.6H927V1244.2H909.4ZM1113.8,1226.6H2238.3V1244.2H1113.8ZM381.5,1243.6H399.1V1261.2H381.5ZM415.5,1243.6H688.6V1261.2H415.5ZM773.2,1243.6H875.9V1261.2H773.2ZM909.4,1243.6H978.1V1261.2H909.4ZM1113.8,1243.6H1318.7V1261.2H1113.8ZM1369.2,1243.6H1420.9V1261.2H1369.2ZM1454.4,1243.6H2238.3V1261.2H1454.4ZM398.5,1260.6H688.6V1278.1H398.5ZM773.2,1260.6H875.9V1278.1H773.2ZM892.4,1260.6H1029.2V1278.1H892.4ZM1113.8,1260.6H1318.7V1278.1H1113.8ZM1386.2,1260.6H1420.9V1278.1H1386.2ZM1471.4,1260.6H2221.3V1278.1H1471.4ZM415.5,1277.5H535.3V1295.1H415.5ZM551.8,1277.5H671.6V1295.1H551.8ZM756.1,1277.5H858.9V1295.1H756.1ZM892.4,1277.5H1029.2V1295.1H892.4ZM1130.8,1277.5H1301.7V1295.1H1130.8ZM1386.2,1277.5H1437.9V1295.1H1386.2ZM1471.4,1277.5H2204.3V1295.1H1471.4ZM449.6,1294.5H671.6V1312.1H449.6ZM756.1,1294.5H841.9V1312.1H756.1ZM892.4,1294.5H1012.2V1312.1H892.4ZM1130.8,1294.5H1301.7V1312.1H1130.8ZM1369.2,1294.5H2204.3V1312.1H1369.2ZM483.7,1311.5H654.5V1329.1H483.7ZM756.1,1311.5H875.9V1329.1H756.1ZM892.4,1311.5H995.1V1329.1H892.4ZM1130.8,1311.5H2187.2V1329.1H1130.8ZM500.7,1328.5H603.5V1346H500.7ZM756.1,1328.5H875.9V1346H756.1ZM892.4,1328.5H995.1V1346H892.4ZM1147.8,1328.5H2170.2V1346H1147.8ZM534.7,1345.4H603.5V1363H534.7ZM739.1,1345.4H995.1V1363H739.1ZM1147.8,1345.4H2170.2V1363H1147.8ZM551.8,1362.4H603.5V1380H551.8ZM722.1,1362.4H995.1V1380H722.1ZM1130.8,1362.4H2153.2V1380H1130.8ZM790.2,1379.4H995.1V1396.9H790.2ZM1113.8,1379.4H1795.6V1396.9H1113.8ZM1829,1379.4H2153.2V1396.9H1829ZM824.3,1396.3H1012.2V1413.9H824.3ZM1096.7,1396.3H1795.6V1413.9H1096.7ZM1829,1396.3H2153.2V1413.9H1829ZM841.3,1413.3H1795.6V1430.9H841.3ZM1812,1413.3H2153.2V1430.9H1812ZM858.3,1430.3H2153.2V1447.9H858.3ZM858.3,1447.3H2170.2V1464.8H858.3ZM875.3,1464.2H2170.2V1481.8H875.3ZM892.4,1481.2H1046.2V1498.8H892.4ZM1062.7,1481.2H1591.2V1498.8H1062.7ZM1624.7,1481.2H1846.7V1498.8H1624.7ZM1863.1,1481.2H1880.7V1498.8H1863.1ZM1914.2,1481.2H2187.2V1498.8H1914.2ZM892.4,1498.2H1029.2V1515.7H892.4ZM1079.7,1498.2H1557.1V1515.7H1079.7ZM1658.7,1498.2H1744.5V1515.7H1658.7ZM1931.2,1498.2H1999.9V1515.7H1931.2ZM2050.4,1498.2H2204.3V1515.7H2050.4ZM892.4,1515.1H1029.2V1532.7H892.4ZM1113.8,1515.1H1557.1V1532.7H1113.8ZM1658.7,1515.1H1727.4V1532.7H1658.7ZM1948.2,1515.1H1965.9V1532.7H1948.2ZM2067.4,1515.1H2102.1V1532.7H2067.4ZM2152.6,1515.1H2170.2V1532.7H2152.6ZM909.4,1532.1H1012.2V1549.7H909.4ZM1045.6,1532.1H1063.3V1549.7H1045.6ZM1113.8,1532.1H1540.1V1549.7H1113.8ZM1641.7,1532.1H1727.4V1549.7H1641.7ZM926.4,1549.1H995.1V1566.7H926.4ZM1113.8,1549.1H1489V1566.7H1113.8ZM1522.5,1549.1H1591.2V1566.7H1522.5ZM1624.7,1549.1H1727.4V1566.7H1624.7ZM960.5,1566.1H978.1V1583.6H960.5ZM1096.7,1566.1H1148.4V1583.6H1096.7ZM1164.9,1566.1H1455V1583.6H1164.9ZM1624.7,1566.1H1693.4V1583.6H1624.7ZM1709.8,1566.1H1727.4V1583.6H1709.8ZM2101.5,1566.1H2119.1V1583.6H2101.5ZM2186.6,1566.1H2204.3V1583.6H2186.6ZM2220.7,1566.1H2238.3V1583.6H2220.7ZM1113.8,1583H1165.5V1600.6H1113.8ZM1181.9,1583H1420.9V1600.6H1181.9ZM2118.5,1583H2238.3V1600.6H2118.5ZM1113.8,1600H1403.9V1617.6H1113.8ZM2101.5,1600H2255.4V1617.6H2101.5ZM1113.8,1617H1386.8V1634.5H1113.8ZM2118.5,1617H2255.4V1634.5H2118.5ZM1130.8,1633.9H1352.8V1651.5H1130.8ZM2118.5,1633.9H2272.4V1651.5H2118.5ZM1147.8,1650.9H1318.7V1668.5H1147.8ZM2135.6,1650.9H2272.4V1668.5H2135.6ZM1147.8,1667.9H1301.7V1685.4H1147.8ZM2152.6,1667.9H2289.4V1685.4H2152.6ZM1164.9,1684.8H1301.7V1702.4H1164.9ZM2152.6,1684.8H2289.4V1702.4H2152.6ZM1164.9,1701.8H1284.7V1719.4H1164.9ZM2169.6,1701.8H2289.4V1719.4H2169.6ZM1164.9,1718.8H1284.7V1736.4H1164.9ZM2186.6,1718.8H2289.4V1736.4H2186.6ZM1181.9,1735.8H1301.7V1753.3H1181.9ZM2220.7,1735.8H2272.4V1753.3H2220.7ZM1181.9,1752.7H1301.7V1770.3H1181.9ZM2220.7,1752.7H2272.4V1770.3H2220.7ZM1215.9,1769.7H1301.7V1787.3H1215.9ZM2135.6,1769.7H2153.2V1787.3H2135.6ZM2203.7,1769.7H2221.3V1787.3H2203.7ZM1267,1786.7H1301.7V1804.2H1267Z" fill="#a7d0e4" shape-rendering="crispEdges"/>
<path d="M415.5,225.3H467.2V242.9H415.5ZM449.6,242.3H535.3V259.9H449.6ZM449.6,259.3H586.4V276.9H449.6ZM449.6,276.3H535.3V293.8H449.6ZM568.8,276.3H637.5V293.8H568.8ZM466.6,293.2H518.3V310.8H466.6ZM568.8,293.2H637.5V310.8H568.8ZM500.7,310.2H518.3V327.8H500.7ZM568.8,310.2H637.5V327.8H568.8ZM773.2,310.2H824.9V327.8H773.2ZM398.5,327.2H467.2V344.7H398.5ZM568.8,327.2H637.5V344.7H568.8ZM739.1,327.2H944.1V344.7H739.1ZM1403.3,327.2H1420.9V344.7H1403.3ZM381.5,344.1H484.3V361.7H381.5ZM585.8,344.1H654.5V361.7H585.8ZM722.1,344.1H1063.3V361.7H722.1ZM1403.3,344.1H1420.9V361.7H1403.3ZM381.5,361.1H484.3V378.7H381.5ZM585.8,361.1H654.5V378.7H585.8ZM705,361.1H1080.3V378.7H705ZM1130.8,361.1H1352.8V378.7H1130.8ZM1403.3,361.1H1420.9V378.7H1403.3ZM364.4,378.1H467.2V395.7H364.4ZM602.9,378.1H654.5V395.7H602.9ZM705,378.1H1097.3V395.7H705ZM1130.8,378.1H1437.9V395.7H1130.8ZM2442.1,378.1H2459.7V395.7H2442.1ZM330.4,395.1H433.2V412.6H330.4ZM602.9,395.1H654.5V412.6H602.9ZM688,395.1H739.7V412.6H688ZM790.2,395.1H1472V412.6H790.2ZM330.4,412H399.1V429.6H330.4ZM688,412H705.6V429.6H688ZM807.2,412H1472V429.6H807.2ZM1573.6,412H1591.2V429.6H1573.6ZM313.3,429H399.1V446.6H313.3ZM824.3,429H1489V446.6H824.3ZM2442.1,429H2476.8V446.6H2442.1ZM2561.3,429H2596V446.6H2561.3ZM296.3,446H399.1V463.5H296.3ZM841.3,446H1489V463.5H841.3ZM2408,446H2493.8V463.5H2408ZM2561.3,446H2578.9V463.5H2561.3ZM296.3,462.9H399.1V480.5H296.3ZM858.3,462.9H1472V480.5H858.3ZM2391,462.9H2476.8V480.5H2391ZM296.3,479.9H382.1V497.5H296.3ZM858.3,479.9H1455V497.5H858.3ZM1795,479.9H1829.6V497.5H1795ZM2425.1,479.9H2442.7V497.5H2425.1ZM279.3,496.9H382.1V514.4H279.3ZM466.6,496.9H484.3V514.4H466.6ZM875.3,496.9H1403.9V514.4H875.3ZM1760.9,496.9H1829.6V514.4H1760.9ZM279.3,513.9H399.1V531.4H279.3ZM449.6,513.9H501.3V531.4H449.6ZM875.3,513.9H1403.9V531.4H875.3ZM1777.9,513.9H1812.6V531.4H1777.9ZM279.3,530.8H399.1V548.4H279.3ZM432.6,530.8H501.3V548.4H432.6ZM892.4,530.8H1386.8V548.4H892.4ZM177.1,547.8H211.8V565.4H177.1ZM262.3,547.8H382.1V565.4H262.3ZM466.6,547.8H484.3V565.4H466.6ZM892.4,547.8H1386.8V565.4H892.4ZM1437.3,547.8H1455V565.4H1437.3ZM177.1,564.8H228.8V582.3H177.1ZM262.3,564.8H365V582.3H262.3ZM909.4,564.8H1352.8V582.3H909.4ZM1403.3,564.8H1591.2V582.3H1403.3ZM177.1,581.7H228.8V599.3H177.1ZM296.3,581.7H331V599.3H296.3ZM926.4,581.7H1335.8V599.3H926.4ZM1403.3,581.7H1591.2V599.3H1403.3ZM1743.9,581.7H1761.5V599.3H1743.9ZM943.5,598.7H1301.7V616.3H943.5ZM1403.3,598.7H1591.2V616.3H1403.3ZM1743.9,598.7H1761.5V616.3H1743.9ZM194.1,615.7H279.9V633.2H194.1ZM977.5,615.7H1301.7V633.2H977.5ZM1454.4,615.7H1574.2V633.2H1454.4ZM92,632.6H109.6V650.2H92ZM194.1,632.6H279.9V650.2H194.1ZM1011.6,632.6H1318.7V650.2H1011.6ZM1488.4,632.6H1506.1V650.2H1488.4ZM1522.5,632.6H1540.1V650.2H1522.5ZM74.9,649.6H109.6V667.2H74.9ZM143.1,649.6H194.7V667.2H143.1ZM245.2,649.6H279.9V667.2H245.2ZM994.6,649.6H1046.2V667.2H994.6ZM1062.7,649.6H1335.8V667.2H1062.7ZM74.9,666.6H92.6V684.2H74.9ZM143.1,666.6H211.8V684.2H143.1ZM977.5,666.6H1046.2V684.2H977.5ZM1062.7,666.6H1352.8V684.2H1062.7ZM977.5,683.6H1046.2V701.1H977.5ZM1062.7,683.6H1352.8V701.1H1062.7ZM1471.4,683.6H1506.1V701.1H1471.4ZM977.5,700.5H1029.2V718.1H977.5ZM1079.7,700.5H1284.7V718.1H1079.7ZM1454.4,700.5H1506.1V718.1H1454.4ZM1522.5,700.5H1540.1V718.1H1522.5ZM74.9,717.5H92.6V735.1H74.9ZM1079.7,717.5H1267.6V735.1H1079.7ZM1454.4,717.5H1472V735.1H1454.4ZM74.9,734.5H92.6V752H74.9ZM824.3,734.5H841.9V752H824.3ZM1079.7,734.5H1267.6V752H1079.7ZM1573.6,734.5H1642.3V752H1573.6ZM74.9,751.4H92.6V769H74.9ZM756.1,751.4H875.9V769H756.1ZM1062.7,751.4H1250.6V769H1062.7ZM1437.3,751.4H1455V769H1437.3ZM1573.6,751.4H1659.3V769H1573.6ZM74.9,768.4H92.6V786H74.9ZM773.2,768.4H858.9V786H773.2ZM1079.7,768.4H1199.5V786H1079.7ZM1437.3,768.4H1455V786H1437.3ZM1573.6,768.4H1642.3V786H1573.6ZM773.2,785.4H841.9V803H773.2ZM1079.7,785.4H1097.3V803H1079.7ZM1573.6,785.4H1608.2V803H1573.6ZM756.1,802.4H841.9V819.9H756.1ZM739.1,819.3H841.9V836.9H739.1ZM2322.9,819.3H2391.6V836.9H2322.9ZM722.1,836.3H807.8V853.9H722.1ZM2288.8,836.3H2374.6V853.9H2288.8ZM722.1,853.3H756.7V870.8H722.1ZM2271.8,853.3H2374.6V870.8H2271.8ZM2016.4,870.2H2051V887.8H2016.4ZM2271.8,870.2H2374.6V887.8H2271.8ZM2016.4,887.2H2068V904.8H2016.4ZM2271.8,887.2H2374.6V904.8H2271.8ZM2016.4,904.2H2085.1V921.8H2016.4ZM2271.8,904.2H2374.6V921.8H2271.8ZM2016.4,921.2H2068V938.7H2016.4ZM2271.8,921.2H2357.6V938.7H2271.8ZM2271.8,938.1H2357.6V955.7H2271.8ZM2288.8,955.1H2357.6V972.7H2288.8ZM1624.7,1040H1659.3V1057.5H1624.7ZM1999.3,1040H2017V1057.5H1999.3ZM2305.9,1040H2323.5V1057.5H2305.9ZM1641.7,1056.9H1659.3V1074.5H1641.7ZM2305.9,1056.9H2340.5V1074.5H2305.9ZM2118.5,1175.7H2136.2V1193.3H2118.5ZM1284.1,1192.7H1318.7V1210.3H1284.1ZM1284.1,1209.7H1318.7V1227.2H1284.1ZM1318.1,1243.6H1369.8V1261.2H1318.1ZM1420.3,1243.6H1455V1261.2H1420.3ZM1318.1,1260.6H1386.8V1278.1H1318.1ZM1420.3,1260.6H1472V1278.1H1420.3ZM1301.1,1277.5H1386.8V1295.1H1301.1ZM1437.3,1277.5H1472V1295.1H1437.3ZM1301.1,1294.5H1369.8V1312.1H1301.1ZM1795,1379.4H1829.6V1396.9H1795ZM1795,1396.3H1829.6V1413.9H1795ZM1795,1413.3H1812.6V1430.9H1795ZM2101.5,1515.1H2153.2V1532.7H2101.5ZM2169.6,1515.1H2204.3V1532.7H2169.6ZM2084.5,1532.1H2221.3V1549.7H2084.5ZM2101.5,1549.1H2221.3V1566.7H2101.5ZM2118.5,1566.1H2187.2V1583.6H2118.5ZM2203.7,1566.1H2221.3V1583.6H2203.7ZM2101.5,1583H2119.1V1600.6H2101.5ZM2169.6,1769.7H2187.2V1787.3H2169.6Z" fill="#529dc8" shape-rendering="crispEdges"/>
<path d="M551.8,581.7H569.4V599.3H551.8ZM688,632.6H722.7V650.2H688ZM483.7,649.6H501.3V667.2H483.7ZM636.9,649.6H722.7V667.2H636.9ZM381.5,666.6H399.1V684.2H381.5ZM449.6,666.6H535.3V684.2H449.6ZM602.9,666.6H705.6V684.2H602.9ZM364.4,683.6H688.6V701.1H364.4ZM330.4,700.5H688.6V718.1H330.4ZM1795,700.5H1812.6V718.1H1795ZM313.3,717.5H705.6V735.1H313.3ZM279.3,734.5H654.5V752H279.3ZM671,734.5H705.6V752H671ZM926.4,734.5H961.1V752H926.4ZM262.3,751.4H637.5V769H262.3ZM688,751.4H705.6V769H688ZM909.4,751.4H978.1V769H909.4ZM245.2,768.4H535.3V786H245.2ZM602.9,768.4H654.5V786H602.9ZM671,768.4H705.6V786H671ZM909.4,768.4H978.1V786H909.4ZM228.2,785.4H535.3V803H228.2ZM602.9,785.4H637.5V803H602.9ZM671,785.4H688.6V803H671ZM909.4,785.4H995.1V803H909.4ZM211.2,802.4H518.3V819.9H211.2ZM619.9,802.4H637.5V819.9H619.9ZM654,802.4H671.6V819.9H654ZM909.4,802.4H1012.2V819.9H909.4ZM143.1,819.3H501.3V836.9H143.1ZM585.8,819.3H671.6V836.9H585.8ZM892.4,819.3H1012.2V836.9H892.4ZM126,836.3H331V853.9H126ZM398.5,836.3H501.3V853.9H398.5ZM602.9,836.3H671.6V853.9H602.9ZM926.4,836.3H1029.2V853.9H926.4ZM92,853.3H228.8V870.8H92ZM262.3,853.3H348V870.8H262.3ZM415.5,853.3H501.3V870.8H415.5ZM602.9,853.3H671.6V870.8H602.9ZM943.5,853.3H1012.2V870.8H943.5ZM1250,853.3H1267.6V870.8H1250ZM92,870.2H228.8V887.8H92ZM296.3,870.2H331V887.8H296.3ZM415.5,870.2H501.3V887.8H415.5ZM585.8,870.2H671.6V887.8H585.8ZM926.4,870.2H1012.2V887.8H926.4ZM1233,870.2H1267.6V887.8H1233ZM109,887.2H228.8V904.8H109ZM296.3,887.2H331V904.8H296.3ZM415.5,887.2H518.3V904.8H415.5ZM551.8,887.2H671.6V904.8H551.8ZM926.4,887.2H1012.2V904.8H926.4ZM1250,887.2H1267.6V904.8H1250ZM1488.4,887.2H1540.1V904.8H1488.4ZM109,904.2H228.8V921.8H109ZM296.3,904.2H331V921.8H296.3ZM381.5,904.2H518.3V921.8H381.5ZM534.7,904.2H603.5V921.8H534.7ZM636.9,904.2H671.6V921.8H636.9ZM926.4,904.2H1029.2V921.8H926.4ZM1488.4,904.2H1574.2V921.8H1488.4ZM109,921.2H228.8V938.7H109ZM313.3,921.2H348V938.7H313.3ZM381.5,921.2H569.4V938.7H381.5ZM636.9,921.2H671.6V938.7H636.9ZM909.4,921.2H1029.2V938.7H909.4ZM1488.4,921.2H1557.1V938.7H1488.4ZM109,938.1H228.8V955.7H109ZM330.4,938.1H348V955.7H330.4ZM364.4,938.1H552.4V955.7H364.4ZM636.9,938.1H671.6V955.7H636.9ZM722.1,938.1H756.7V955.7H722.1ZM926.4,938.1H1029.2V955.7H926.4ZM1147.8,938.1H1165.5V955.7H1147.8ZM1284.1,938.1H1301.7V955.7H1284.1ZM109,955.1H245.8V972.7H109ZM330.4,955.1H450.2V972.7H330.4ZM483.7,955.1H535.3V972.7H483.7ZM619.9,955.1H671.6V972.7H619.9ZM688,955.1H807.8V972.7H688ZM943.5,955.1H1012.2V972.7H943.5ZM1147.8,955.1H1165.5V972.7H1147.8ZM126,972.1H245.8V989.6H126ZM313.3,972.1H433.2V989.6H313.3ZM483.7,972.1H535.3V989.6H483.7ZM619.9,972.1H807.8V989.6H619.9ZM943.5,972.1H978.1V989.6H943.5ZM1147.8,972.1H1182.5V989.6H1147.8ZM126,989H245.8V1006.6H126ZM296.3,989H433.2V1006.6H296.3ZM483.7,989H535.3V1006.6H483.7ZM585.8,989H824.9V1006.6H585.8ZM926.4,989H944.1V1006.6H926.4ZM1147.8,989H1182.5V1006.6H1147.8ZM126,1006H313.9V1023.6H126ZM364.4,1006H433.2V1023.6H364.4ZM483.7,1006H535.3V1023.6H483.7ZM568.8,1006H705.6V1023.6H568.8ZM756.1,1006H824.9V1023.6H756.1ZM1130.8,1006H1199.5V1023.6H1130.8ZM126,1023H313.9V1040.6H126ZM364.4,1023H450.2V1040.6H364.4ZM466.6,1023H535.3V1040.6H466.6ZM568.8,1023H705.6V1040.6H568.8ZM756.1,1023H824.9V1040.6H756.1ZM926.4,1023H961.1V1040.6H926.4ZM1147.8,1023H1182.5V1040.6H1147.8ZM126,1040H262.9V1057.5H126ZM364.4,1040H501.3V1057.5H364.4ZM568.8,1040H824.9V1057.5H568.8ZM926.4,1040H995.1V1057.5H926.4ZM1164.9,1040H1182.5V1057.5H1164.9ZM1198.9,1040H1216.5V1057.5H1198.9ZM143.1,1056.9H160.7V1074.5H143.1ZM194.1,1056.9H262.9V1074.5H194.1ZM364.4,1056.9H484.3V1074.5H364.4ZM568.8,1056.9H807.8V1074.5H568.8ZM926.4,1056.9H1029.2V1074.5H926.4ZM1164.9,1056.9H1182.5V1074.5H1164.9ZM1198.9,1056.9H1216.5V1074.5H1198.9ZM194.1,1073.9H262.9V1091.5H194.1ZM364.4,1073.9H484.3V1091.5H364.4ZM517.7,1073.9H535.3V1091.5H517.7ZM585.8,1073.9H773.8V1091.5H585.8ZM909.4,1073.9H1046.2V1091.5H909.4ZM1198.9,1073.9H1216.5V1091.5H1198.9ZM194.1,1090.9H535.3V1108.4H194.1ZM568.8,1090.9H773.8V1108.4H568.8ZM807.2,1090.9H824.9V1108.4H807.2ZM875.3,1090.9H961.1V1108.4H875.3ZM977.5,1090.9H1063.3V1108.4H977.5ZM1164.9,1090.9H1199.5V1108.4H1164.9ZM211.2,1107.8H773.8V1125.4H211.2ZM790.2,1107.8H807.8V1125.4H790.2ZM858.3,1107.8H961.1V1125.4H858.3ZM977.5,1107.8H1080.3V1125.4H977.5ZM1181.9,1107.8H1216.5V1125.4H1181.9ZM1914.2,1107.8H1931.8V1125.4H1914.2ZM228.2,1124.8H773.8V1142.4H228.2ZM790.2,1124.8H824.9V1142.4H790.2ZM858.3,1124.8H1080.3V1142.4H858.3ZM1181.9,1124.8H1216.5V1142.4H1181.9ZM245.2,1141.8H313.9V1159.3H245.2ZM330.4,1141.8H790.8V1159.3H330.4ZM807.2,1141.8H824.9V1159.3H807.2ZM858.3,1141.8H1063.3V1159.3H858.3ZM1198.9,1141.8H1216.5V1159.3H1198.9ZM262.3,1158.7H790.8V1176.3H262.3ZM875.3,1158.7H927V1176.3H875.3ZM960.5,1158.7H1063.3V1176.3H960.5ZM262.3,1175.7H331V1193.3H262.3ZM347.4,1175.7H790.8V1193.3H347.4ZM960.5,1175.7H1080.3V1193.3H960.5ZM330.4,1192.7H620.5V1210.3H330.4ZM654,1192.7H773.8V1210.3H654ZM943.5,1192.7H1080.3V1210.3H943.5ZM330.4,1209.7H518.3V1227.2H330.4ZM568.8,1209.7H620.5V1227.2H568.8ZM654,1209.7H773.8V1227.2H654ZM926.4,1209.7H1097.3V1227.2H926.4ZM279.3,1226.6H296.9V1244.2H279.3ZM330.4,1226.6H467.2V1244.2H330.4ZM585.8,1226.6H603.5V1244.2H585.8ZM688,1226.6H773.8V1244.2H688ZM875.3,1226.6H910V1244.2H875.3ZM926.4,1226.6H1114.4V1244.2H926.4ZM398.5,1243.6H416.1V1261.2H398.5ZM688,1243.6H773.8V1261.2H688ZM875.3,1243.6H910V1261.2H875.3ZM977.5,1243.6H1114.4V1261.2H977.5ZM688,1260.6H773.8V1278.1H688ZM875.3,1260.6H893V1278.1H875.3ZM1028.6,1260.6H1114.4V1278.1H1028.6ZM534.7,1277.5H552.4V1295.1H534.7ZM671,1277.5H756.7V1295.1H671ZM858.3,1277.5H893V1295.1H858.3ZM1028.6,1277.5H1131.4V1295.1H1028.6ZM671,1294.5H756.7V1312.1H671ZM841.3,1294.5H893V1312.1H841.3ZM1011.6,1294.5H1131.4V1312.1H1011.6ZM654,1311.5H756.7V1329.1H654ZM875.3,1311.5H893V1329.1H875.3ZM994.6,1311.5H1131.4V1329.1H994.6ZM602.9,1328.5H756.7V1346H602.9ZM875.3,1328.5H893V1346H875.3ZM994.6,1328.5H1148.4V1346H994.6ZM602.9,1345.4H739.7V1363H602.9ZM994.6,1345.4H1148.4V1363H994.6ZM602.9,1362.4H722.7V1380H602.9ZM994.6,1362.4H1131.4V1380H994.6ZM619.9,1379.4H722.7V1396.9H619.9ZM994.6,1379.4H1114.4V1396.9H994.6ZM1011.6,1396.3H1097.3V1413.9H1011.6ZM1045.6,1481.2H1063.3V1498.8H1045.6ZM1590.6,1481.2H1625.3V1498.8H1590.6ZM1028.6,1498.2H1080.3V1515.7H1028.6ZM1556.5,1498.2H1659.3V1515.7H1556.5ZM1028.6,1515.1H1114.4V1532.7H1028.6ZM1556.5,1515.1H1659.3V1532.7H1556.5ZM1062.7,1532.1H1114.4V1549.7H1062.7ZM1539.5,1532.1H1642.3V1549.7H1539.5ZM1079.7,1549.1H1114.4V1566.7H1079.7ZM1590.6,1549.1H1625.3V1566.7H1590.6ZM943.5,1566.1H961.1V1583.6H943.5ZM1147.8,1566.1H1165.5V1583.6H1147.8ZM1164.9,1583H1182.5V1600.6H1164.9Z" fill="#e1edf3" shape-rendering="crispEdges"/>
<path d="M330.4,836.3H399.1V853.9H330.4ZM228.2,853.3H262.9V870.8H228.2ZM347.4,853.3H416.1V870.8H347.4ZM228.2,870.2H296.9V887.8H228.2ZM330.4,870.2H416.1V887.8H330.4ZM228.2,887.2H296.9V904.8H228.2ZM330.4,887.2H416.1V904.8H330.4ZM228.2,904.2H296.9V921.8H228.2ZM330.4,904.2H382.1V921.8H330.4ZM602.9,904.2H637.5V921.8H602.9ZM228.2,921.2H313.9V938.7H228.2ZM347.4,921.2H382.1V938.7H347.4ZM568.8,921.2H637.5V938.7H568.8ZM228.2,938.1H331V955.7H228.2ZM347.4,938.1H365V955.7H347.4ZM551.8,938.1H637.5V955.7H551.8ZM245.2,955.1H331V972.7H245.2ZM534.7,955.1H620.5V972.7H534.7ZM245.2,972.1H313.9V989.6H245.2ZM534.7,972.1H620.5V989.6H534.7ZM245.2,989H296.9V1006.6H245.2ZM534.7,989H586.4V1006.6H534.7ZM534.7,1006H569.4V1023.6H534.7ZM705,1006H756.7V1023.6H705ZM534.7,1023H569.4V1040.6H534.7ZM705,1023H756.7V1040.6H705ZM500.7,1040H569.4V1057.5H500.7ZM160.1,1056.9H194.7V1074.5H160.1ZM483.7,1056.9H569.4V1074.5H483.7ZM177.1,1073.9H194.7V1091.5H177.1ZM483.7,1073.9H518.3V1091.5H483.7ZM534.7,1073.9H586.4V1091.5H534.7ZM534.7,1090.9H569.4V1108.4H534.7ZM313.3,1141.8H331V1159.3H313.3ZM330.4,1175.7H348V1193.3H330.4ZM262.3,1192.7H331V1210.3H262.3ZM262.3,1209.7H331V1227.2H262.3ZM296.3,1226.6H331V1244.2H296.3Z" fill="#fae8de" shape-rendering="crispEdges"/>
<g fill="none" stroke="#000" stroke-width="4.2" stroke-linejoin="round" stroke-linecap="round">
<path d="M304.6,239.4 299.8,240.6 294.9,238.2 291.2,232.7 283.9,232.1 271.8,226.6 263.2,222.4 254.7,216.3 251.1,211.4 242.5,204.1 235.2,197.4"/>
<path d="M213.9,326.5 220.6,327.1 229.1,329.5 235.2,331.9 240.1,334.4 243.8,342.9 251.1,345.9 254.7,349"/>
<path d="M75.1,752.2 81.2,764.4 91.3,788.7 95.4,804.9 87.3,817.1 97.4,811 101.5,825.2 109.6,837.4 103.5,845.5 100.6,869.9 107.5,890.2 119.7,900.3 117.7,912.5 107.5,922.6 106.3,934.8 115.7,955.1 121.8,979.4 133.9,999.7 133.9,1016 140,1024.1 136,1040.3 131.9,1054.5 138,1062.6 154.2,1067.9 170.5,1076.9 182.6,1082.9 190.7,1093.1 192.8,1101.2 207,1111.3 225.2,1119.5 229.3,1131.6 227.3,1139.8 239.4,1141.8 251.6,1158 261.8,1174.3 267.9,1190.5 267.9,1210.8 265.8,1218.9 269.9,1227 269.9,1243.2 273.9,1263.5 284.1,1277.7 278,1291.9 284.1,1308.2 290.2,1324.4 286.1,1336.6"/>
<path d="M284.1,1310 289,1322.2 287.3,1334.4 296.3,1348.6 293,1370.9 301.1,1381 298.3,1399.3 300.3,1415.5 312.5,1429.7 322.6,1441.9 332.8,1450 345,1472.3 357.1,1494.7 365.3,1508.9 367.3,1519 361.2,1533.2 353.1,1545.4 347,1549.4 336.9,1552.7 324.7,1549.4 306.4,1542.1 304.4,1547.4 314.5,1559.6 326.7,1573.8 327.9,1586 334.8,1594.1 345,1600.2 351.1,1610.3 359.2,1612.4 367.3,1630.6 379.5,1627.8 387.6,1630.6 395.7,1621.7 393.7,1634.7 397.7,1646.9 405.8,1657 416,1669.2 430.2,1678.5 436.3,1695.6 438.3,1709.8 436.3,1719.9 438.3,1724 434.3,1740.2 428.2,1756.4 424.1,1766.6 430.2,1776.7 440.3,1788.9 446.4,1789.7 454.5,1801.1 466.7,1813.2 478.9,1825.4 489,1839.6 499.2,1853.8 513.4,1864 519.5,1882.2 521.5,1902.5 525.6,1913.9 535.7,1912.7 547.9,1906.6 560.1,1900.5 566.2,1884.3 562.1,1876.2 552.8,1870.1 551.9,1857.9 543.8,1839.6 535.7,1829.5 525.6,1818.1 521.5,1823.4 519.5,1833.5 513.4,1827.5 507.3,1823.4 503.2,1813.2 502.4,1797 507.3,1786.9 509.3,1776.7 503.2,1764.5 499.2,1756.4 495.9,1736.1 489,1732.1 485,1717.9 485,1699.6 483,1671.2 480.9,1657 470.8,1642.8 464.7,1646.9 460.6,1632.6 461.9,1626.6 451.3,1616.4 448.5,1598.1 436.3,1583.9 430.2,1571.8 432.2,1553.5 430.2,1535.2 420,1527.1 418,1508.9 411.9,1504.8 410.7,1496.7 403.8,1495.9 401.8,1480.5 395.7,1464.2 381.5,1443.9 371.3,1429.7 363.2,1413.5 361.2,1403.3 367.3,1383.1 368.5,1354.6 363.2,1342.5 369.3,1322.2 375.4,1310"/>
<path d="M387.6,1310 399.8,1324.2 407.9,1330.3 416,1329.5 418,1324.2 432.2,1336.4 432.2,1346.5 446.4,1354.6 459.8,1361.9 457.8,1370.1 454.5,1370.9 450.5,1387.1 456.6,1407.4 460.6,1427.7 460.6,1439.9 466.7,1460.2 471.6,1472.3 470.8,1482.5 478.9,1488.6 478.9,1506.8 489,1521 497.2,1541.3 507.3,1551.5 515.4,1571.8 523.5,1582.7 531.7,1589.2 537.7,1588.4 554,1596.1 547.9,1606.3 545.9,1620.5 551.9,1634.7 560.1,1642.8 576.3,1650.1 578.3,1665.1 584.4,1677.3 598.6,1678.5 608.8,1691.5 610.8,1703.7 614.9,1709.8 604.7,1709.8 594.6,1719.9 593.3,1740.2 598.6,1750.3 608.8,1750.3 620.9,1746.3 608.8,1758.5 625,1758.5 627,1766.6 641.2,1778.8 649.4,1786.9 663.6,1795 649.4,1793 655.4,1803.1 662.3,1815.3 663.6,1823.4 673.7,1831.5 687.9,1837.6 673.7,1835.6 689.9,1851.8 708.2,1870.1 720.4,1888.3 728.5,1904.6 736.6,1915.9 746.8,1943.1"/>
<path d="M1262.5,1943.1 1264.5,1915.9 1270.6,1878.2 1278.7,1849.8 1288.9,1825.4 1297,1805.1 1299.8,1790.9 1297,1776.7 1290.9,1748.3 1287.7,1715.8 1295,1691.5 1307.1,1675.3 1323.4,1657 1343.7,1642.8 1372.1,1626.6 1396.4,1612.4 1416.7,1594.1 1437,1577.9 1457.3,1565.7 1477.6,1557.6 1489.8,1553.5 1518.2,1551.5 1538.5,1557.6 1554.7,1562.4 1575,1563.7 1591.2,1559.6 1583.1,1551.5 1593.3,1545.4 1607.5,1551.5 1619.6,1563.7 1631.8,1565.7 1635.9,1577.9 1648.1,1582.7 1660.2,1586 1668.3,1575.8 1680.5,1573.8 1688.6,1586 1696.8,1569.7 1692.7,1559.6 1708.9,1567.7 1721.1,1577.9 1741.4,1573.8 1753.6,1577.9 1745.5,1588 1735.3,1588 1731.2,1575.8 1717,1563.7 1713,1553.5 1729.2,1541.3 1731.2,1529.2 1721.1,1523.1 1737.3,1519 1735.3,1504.8 1755.6,1498.7 1777.9,1498.7 1796.2,1494.7 1800.2,1478.4 1810.4,1496.7 1826.6,1498.7 1842.9,1492.6 1857.1,1480.5 1859.1,1490.6 1879.4,1484.5 1899.7,1480.5 1920,1492.6 1936.2,1500.7"/>
<path d="M1924.4,1494.7 1930.4,1488.6 1928.4,1496.7 1946.7,1512.9 1950.7,1521 1960.9,1521 1981.2,1515 2001.5,1502.8 2003.5,1494.7 2017.7,1488.6 2040,1496.7 2070.5,1527.1 2094.8,1541.3 2107,1553.5 2109,1577.9 2107,1606.3 2109,1622.5 2121.2,1624.5 2117.1,1610.3 2129.3,1612.4 2127.3,1618.4 2119.2,1638.7 2133.4,1655 2147.6,1671.2 2159.7,1667.1 2163.8,1683.4 2157.7,1691.5 2163.8,1699.6 2173.9,1695.6 2180,1711.8 2192.2,1728 2210.5,1732.1 2224.7,1748.3 2240.9,1760.5 2228.7,1760.5 2230.8,1770.6 2240.9,1770.6 2257.1,1766.6 2269.3,1760.5 2277.4,1750.3 2275.4,1732.1 2281.5,1715.8 2279.5,1675.3 2273.4,1650.9 2263.2,1630.6 2245,1602.2 2228.7,1573.8 2224.7,1553.5 2208.4,1529.2 2192.2,1504.8 2176,1480.5 2159.7,1452 2148.4,1425.7 2147.6,1399.3 2153.7,1379 2159.7,1358.7 2165.8,1338.4 2176,1322.2 2188.1,1310"/>
<path d="M2165.8,1345.9 2167.9,1324.4 2176,1312.2 2196.3,1300.1 2208.4,1283.8 2224.7,1267.6 2236.9,1255.4 2238.9,1239.2 2249,1218.9 2261.2,1204.7 2273.4,1198.6 2293.7,1194.5 2291.6,1182.4 2299.8,1166.1 2309.9,1149.9 2322.1,1139.8 2358.6,1135.7 2366.7,1117.4 2374.8,1101.2 2393.1,1089 2395.1,1080.9 2389,1060.6 2374.8,1040.3 2358.6,1016 2346.4,995.7"/>
<path d="M2349.9,994.6 2356,1008 2367,1027.5 2384,1051.9 2393.8,1066.5 2397.4,1086 2388.9,1093.3"/>
<path d="M2370.6,891.1 2369.4,905.7 2364.6,927.6 2358.5,949.5 2349.9,966.6 2348.7,980"/>
<path d="M2363.3,908.1 2356,925.2 2347.5,942.2 2342.6,954.4 2342.6,971.5 2348.7,980"/>
<path d="M2342.6,954.4 2346.3,934.9 2349.9,925.2 2337.8,930 2340.2,920.3 2332.9,915.4 2335.3,908.1 2325.6,913 2315.8,908.1 2309.7,900.8 2313.4,893.5 2323.1,893.5 2311,888.6 2303.6,878.9 2303.6,871.6 2308.5,864.3 2304.9,856.9 2311,847.2 2308.5,837.5 2315.8,835"/>
<path d="M2308.5,837.5 2301.2,847.2 2293.9,854.5 2286.6,860.6 2293.9,866.7 2290.2,872.8 2295.1,886.2 2291.5,900.8 2303.6,913 2313.4,927.6 2301.2,920.3 2289,915.4 2274.4,914.2 2267.1,921.5 2263.4,915.4 2264.7,903.2 2272,891.1 2274.4,886.2"/>
<path d="M2287.8,922.7 2303.6,930 2318.3,937.3 2321.9,952 2306.1,947.1 2289,937.3 2276.8,932.5 2293.9,944.7 2313.4,956.8 2328,962.9 2325.6,971.5 2313.4,969 2303.6,967.8 2318.3,978.8 2330.4,986.1 2328,992.2 2315.8,986.1 2303.6,983.6 2281.7,983.6 2311,988.5 2325.6,1000.7 2349.9,994.6"/>
<path d="M2326.8,820.4 2332.9,837.5 2340.2,849.6 2356,869.1 2364.6,876.4 2364.6,886.2 2370.6,891.1"/>
<path d="M2367,861.8 2364.6,849.6 2356,846 2345.1,843.5 2335.3,836.2 2328,827.7 2326.8,818 2332.9,810.7 2342.6,804.6 2349.9,796 2356,788.7"/>
<path d="M2410.8,740 2386.5,747.3 2374.3,752.2 2373.1,760.7 2386.5,759.5 2391.4,771.7 2392.6,796 2390.1,813.1 2384,822.8 2381.6,832.6 2376.7,842.3 2371.9,854.5 2367,861.8"/>
<path d="M2321.9,1043.3 2325.6,1056.7 2335.3,1054.3 2340.2,1045.8 2352.4,1037.2 2362.1,1034.8 2369.4,1039.7"/>
<path d="M2325.6,1059.2 2354.8,1051.9 2362.1,1066.5 2370.6,1051.9 2376.7,1061.6 2374.3,1076.2 2364.6,1086 2347.5,1090.8 2337.8,1086 2315.8,1090.8 2345.1,1098.2 2345.1,1104"/>
<path d="M2320.3,1112.2 2328.8,1119.5 2338.6,1120.7 2358,1114.6 2355.6,1136.5 2345.9,1131.7 2366.6,1115.8"/>
<path d="M2372,764 2373.2,753.3 2380.5,741.1 2381.7,728.9 2391.5,724 2403.6,711.9 2420.7,698.5 2447.5,688.7 2464.6,681.4 2476.7,675.3 2486.5,665.6 2484,648.5 2479.2,648.5 2486.5,668 2501.1,658.3 2515.7,653.4 2510.8,646.1 2525.5,643.6 2543.7,633.9 2543.7,629 2542.5,619.3 2532.8,613.2 2523,614.4 2535.2,618.1 2537.6,629 2520.6,636.3 2510.8,626.6 2501.1,616.8 2485.3,612 2495,588.8 2481.6,580.3 2482.8,565.7 2488.9,546.2 2491.4,524.3 2496.2,516.9 2508.4,507.2 2520.6,495 2535.2,480.4 2532.8,463.3 2536.4,451.2 2545,456 2559.6,448.7 2571.8,441.4 2583.9,426.8 2596.1,421.9 2601,409.7 2598.1,401.3 2589.9,393.2"/>
<path d="M2391.5,726.5 2406.1,716.7 2420.7,713.1 2435.3,708.2 2449.9,697.2 2442.6,714.3 2469.4,697.2 2459.7,707 2442.6,724 2428,733.8 2411,741.1 2393.9,748.4 2381.7,753.3 2374.4,760.6 2380.5,741.1 2391.5,726.5"/>
<path d="M2588.2,392.9 2593.7,392 2604.7,395.7 2612,389.3 2619.3,387.4 2630.2,374.7 2625.7,371 2626.6,361.9 2630.2,369.2 2637.6,372.8 2646.7,363.7 2657.7,352.7 2665,345.4 2675.9,330.8 2679.6,319.8 2672.3,309.8 2679.6,312.5 2685.1,312.5 2690.5,305.2 2692.4,297.9"/>
<path d="M2692.4,297.9 2686.9,314.4 2679.6,330.8 2674.1,345.4 2677.8,348.2 2685.1,341.8 2696,338.1 2710.6,330.8 2727.1,323.5 2738.1,321.7 2736.2,325.3 2725.3,330.8 2714.3,339.9 2708.8,349.1 2714.3,354.6 2699.7,347.2 2696,341.8 2685.1,356.4 2674.1,372.8 2665,387.4 2655.8,402.1 2648.5,413 2644.9,425.8 2643,433.1 2646.7,443 2652.8,446 2671.1,458.1 2687.3,462.2 2701.5,450 2711.7,429.7 2707,443 2710.6,431.3 2714.3,422.2 2718,407.6 2725.3,394.8 2719.8,383.8 2728.9,374.7 2738.1,378.3 2749,376.5 2745.4,371 2747.2,363.7 2758.2,356.4 2772.8,347.2 2783.7,336.3 2798.4,321.7 2811.1,307 2820.5,297.9 2827.6,296.1"/>
<path d="M2827.6,279.6 2818.5,279.6 2807.5,271.4 2800.2,274.2 2787.4,277.8 2781,269.6 2776.4,272.3 2767.3,288.8 2755.4,294.3 2754.5,289.7 2741.7,292.4 2730.7,297.9 2719.8,296.1 2710.6,299.7 2699.7,296.1 2694.2,296.1 2699.7,286 2685.1,287.9 2670.4,291.5 2665,288.8 2652.2,270.5 2643,261.4 2639.4,250.4 2628.4,252.2 2620.2,255.9 2627.5,241.3 2630.2,232.1 2628.4,224.8 2628.4,212 2634.8,202.9 2633,191 2629.3,191.9 2627.5,207.5 2615.6,208.4 2606.5,213.9 2599.2,224.8 2593.7,226.6 2584.6,217.5 2575.4,216.6 2559,217.5 2544.4,225.7 2555.3,214.8 2566.3,210.2 2571.8,202.9 2588.2,204.7 2601,202.9 2608.3,195.6 2615.6,186.4 2617.4,180.1 2617.4,151.7"/>
<path d="M2811.1,160.9 2811.1,181.9 2802,188.3 2797.4,206.5 2794.7,224.8 2792.9,243.1 2798.4,257.7 2807.5,266.8 2827.6,269.6"/>
<path d="M2281.5,500.8 2305.8,470.3 2322.1,450 2330.2,421.6 2346.4,401.3 2362.7,381 2378.9,364.8 2399.2,344.5 2411,334.5 2420.1,316.2 2425.6,297.9 2429.2,279.6 2430.2,261.4 2438.4,243.1 2443.9,224.8 2451.2,206.5 2456.6,191.9 2465.8,180.1 2469.4,160.9"/>
<path d="M2281.5,500.8 2309.9,470.3 2326.1,446 2336.3,413.5 2358.6,385.1 2391.1,356.7 2409.1,343.6 2420.1,330.8 2429.2,308.9 2436.5,286.9 2441.1,268.7 2447.5,252.2 2458.5,232.1 2469.4,217.5 2482.2,202.9 2495,190.1 2509.6,180.1 2516.9,160.9"/>
<path d="M2370.8,255.2 2400,254.1 2414.6,255 2425.6,257.7 2429.2,261.4"/>
<path d="M1954.8,192.3 1969,180.1 1981.2,178.9 1997.4,180.1 2017.7,202.5"/>
<path d="M234,179.1 242.5,184.6 251.1,193.1 259.6,201.7 269.3,209 277.8,214.1 283.9,212 289.8,213.2 290,204.7 285.1,204.1 283.9,179.1"/>
<path d="M304.6,239.4 302.2,247.9 305.8,255.2 296.1,257.7 283.9,266.2 275.4,273.5 273.6,278.4 279.1,280.2 285.1,277.8"/>
<path d="M309.5,228.4 307.1,238.2 309.5,249.1 313.1,257.7 308.3,267.4 302.2,271.1 297.9,279.6 296.1,286.9 288.8,283.2 281.5,284.4 274.2,291.8 283.9,297.8 287.6,299.7 296.1,293 303.4,291.8 308.3,286.9 310.7,274.7 313.8,262.5 324.1,251.6 320.5,240.6 322.9,233.3 320.5,222.4 325.3,218.7 327.2,204.1 322.9,198 320.5,184.6 316.8,181"/>
<path d="M315.6,221.1 311.9,230.9 316.8,238.2 320.5,247.9 315.6,255.2 311.9,247.9 313.1,238.2"/>
<path d="M111.6,837.4 115.7,819.1 133.9,827.3 156.2,837.4 133.9,827.3 117.7,821.2 109.6,841.5 117.7,861.8 111.6,841.5"/>
<path d="M235.2,197.4 231.6,206.5 228.5,221.1 233.4,233.3 234,243.1 231,255.2 230.4,267.4 227.9,279.6 226.1,286.9 240.1,290.5 227.9,293 224.9,297.8 227.9,301.5 232.2,307.6 227.9,316.1 223.1,321 223.1,307.6 213.9,326.5 215.7,333.1 209.7,350 211,356.7 205,372.9 190.7,401.3 178.6,429.7 168.4,450 156.2,472.4 146.1,488.6 133.9,500.8 121.8,517 123,531.2 117.7,543.4 115.7,559.6 118.5,569.8 113.6,579.9 114.9,596.1 109.6,610.3 99.4,626.6 87.3,640.8 77.1,657 76.3,667.2 81.2,679.3 87.3,697.6 85.2,713.8 79.1,726 75.1,752.4"/>
<path d="M363.2,1342.5 369.3,1322.2 377.4,1312.2 371.3,1296 381.5,1306.2 387.6,1310"/>
<path d="M1428.9,1577.9 1420.8,1557.6 1437,1555.5 1439,1565.7 1449.2,1567.7"/>
<path d="M1355.8,1634.7 1339.6,1630.6 1331.5,1620.5 1351.8,1624.5 1368,1626.6"/>
<path d="M1317.3,1661.1 1303.1,1657 1315.3,1652.9 1321.3,1640.8 1329.5,1650.9 1345.7,1640.8"/>
<path d="M1303.1,1675.3 1286.9,1673.2 1297,1685.4"/>
<path d="M1284.8,1709.8 1266.6,1699.6 1272.6,1709.8 1284.8,1713.8"/>
<path d="M1278.7,1728 1284.8,1756.4 1297,1784.8"/>
<path d="M1481.7,1553.5 1485.7,1541.3 1489.8,1543.4 1484.9,1553.5"/>
<path d="M1672.4,1521 1684.6,1506.8 1704.9,1512.9 1713,1521 1692.7,1527.1 1672.4,1521"/>
<path d="M1757.6,1521 1761.7,1533.2 1755.6,1545.4"/>
<path d="M1765.7,1508.1 1773.9,1509.7"/>
<path d="M1786,1506.8 1798.2,1504.8"/>
<path d="M2279.5,1752.4 2275.4,1764.5 2269.3,1776.7"/>
<path d="M2265.3,1780.8 2261.2,1785.6"/>
<path d="M2255.1,1789.7 2251.1,1791.7"/>
<path d="M2245,1795.4 2236.9,1800.3"/>
<path d="M2222.6,1801.9 2224.7,1808.4"/>
<path d="M2214.5,1810 2209.3,1813.2"/>
<path d="M2203.6,1815.7 2199.5,1818.1"/>
</g>
<g fill="#000" stroke="#000" stroke-width="3" stroke-linejoin="round">
<path d="M297.3,204.1 308.3,201.7 316.8,206.5 314.4,211.4 308.3,212.6 310.7,221.1 305.8,222.4 301,216.3 296.1,211.4Z"/>
<path d="M284.5,179.7 290,180.3 293.1,191.9 290,204.7 285.1,204.1Z"/>
<path d="M293.7,181 301,184.6 299.1,194.4 294.9,189.5Z"/>
<path d="M309.5,181.6 316.8,182.2 314.4,188.3 310.1,187Z"/>
<path d="M304.6,247.9 311.9,249.1 320.5,247.9 322.9,255.2 313.1,262.5 307.1,258.9Z"/>
<path d="M298.5,271.1 307.1,267.4 309.5,277.1 307.1,286.9 298.5,290.5 296.1,279.6Z"/>
<path d="M276.6,286.9 287.6,283.2 292.5,291.8 283.9,296.6 275.4,291.8Z"/>
</g>
<g fill="#efefdb" stroke="#000" stroke-width="4.2" stroke-linejoin="round">
<path d="M2672.3,236.7 2665.9,255.9 2665,265 2669.5,265 2675.9,266.8 2685.1,276 2694.2,272.3 2699.7,276 2710.6,277.8 2721.6,274.2 2728.9,263.2 2734.4,276 2741.7,277.8 2754.5,274.2 2757.2,269.6 2749,265 2750.8,257.7 2758.2,250.4 2764.5,240.4 2756.3,238.5 2743.5,244.9 2728.9,253.1 2719.8,257.7 2701.5,258.6 2694.2,261.4 2688.7,255.9 2679.6,250.4 2675.9,241.3Z"/>
<path d="M2334.3,1651.7 2354.5,1639.5 2360.6,1643.6 2393.1,1635.9 2395.1,1640.8 2366.7,1652.9 2350.5,1661.1Z"/>
<path d="M2391.1,1624.5 2413.4,1620.5 2439.8,1634.7 2449.9,1650.9 2445.9,1679.3 2433.7,1673.2 2441.8,1663.1 2437.7,1642.8 2423.5,1630.6 2393.1,1626.6Z"/>
<path d="M2399.2,1735.3 2415.4,1740.2 2435.7,1764.5 2434.9,1778.8 2421.5,1790.9 2407.3,1782.8 2393.1,1774.7 2405.3,1768.6 2403.2,1748.3Z"/>
<path d="M2425.6,1793 2443.8,1786.9 2458,1807.2 2456,1820.6 2445.9,1822.2 2435.7,1805.1Z"/>
<path d="M2476.3,1693.5 2496.6,1700.4 2518.9,1711.8 2523,1742.2 2512.8,1736.1 2516.9,1715.8 2496.6,1706.9 2478.3,1701.6Z"/>
<path d="M2547.3,1734.1 2565.6,1748.3 2581.8,1760.5 2569.6,1765.4 2549.4,1740.2Z"/>
<path d="M2437.7,1736.1 2447.9,1732.1 2456,1732.9 2445.9,1738.2Z"/>
<path d="M2626.5,1751.6 2632.5,1750.3 2631.3,1762.5 2626.5,1761.3Z"/>
<path d="M2547.3,1803.1 2559.5,1805.9 2571.7,1813.2 2559.5,1810Z"/>
<path d="M2587.9,1793 2608.2,1819.3 2628.5,1835.6 2614.3,1825.4 2604.1,1823.4Z"/>
<path d="M2658.9,1829.5 2675.2,1831.5 2689.4,1828.7 2693.4,1841.7 2673.1,1870.1 2687.3,1839.6 2663,1835.6Z"/>
<path d="M2734,1835.6 2748.2,1833.5 2760.4,1836.8 2746.2,1837.6 2735.2,1839.6Z"/>
<path d="M2792.9,1858.7 2807.1,1857.9 2803,1862.8 2794.9,1864Z"/>
<path d="M2813.1,1845.7 2820.5,1847.7 2820.5,1851.8Z"/>
<path d="M2754.3,1892.4 2762.4,1888.3 2766.5,1892.4 2758.4,1896.4Z"/>
<path d="M2115.1,1941.5 2143.5,1930.2 2167.9,1922 2192.2,1909.1 2224.7,1906.6 2247,1900.9 2253.1,1905.8 2283.5,1897.7 2291.6,1902.6 2305.8,1903.8 2334.3,1901.8 2350.5,1909.9 2370.8,1922.9 2380.9,1925.3 2407.3,1921.2 2439.8,1929.4 2468.2,1938.3 2480.4,1942.3 2480.4,1958.6 2115.1,1958.6Z"/>
<path d="M2407.3,1909.9 2427.6,1905.8 2443.8,1913.9 2460.1,1921.2 2476.3,1928.1 2475.5,1937.5 2464.1,1934.2 2447.9,1924.1 2427.6,1913.9 2409.3,1913.9Z"/>
<path d="M2346.4,1903.8 2358.6,1906.6 2368.8,1911.9 2356.6,1909.9Z"/>
<path d="M2727.9,1930.2 2736,1922 2752.3,1916 2762.4,1903.8 2765.7,1913.9 2760.4,1926.1 2732,1938.3Z"/>
<path d="M2484.4,1937.5 2496.6,1941.5 2484.4,1941.5Z"/>
<path d="M2184.1,1941.5 2208.4,1937.5 2224.7,1938.3 2228.7,1941.5Z"/>
<path d="M129.9,1088.2 140,1089.8 152.2,1097.1 146.1,1103.2 138,1099.2Z"/>
<path d="M156.2,1096.3 166.4,1099.2 176.5,1103.2 164.4,1105.3Z"/>
<path d="M166.3,1150.7 165.5,1153.1 163.5,1154.5 161.1,1154.5 159.1,1153.1 158.3,1150.7 159.1,1148.3 161.1,1146.9 163.5,1146.9 165.5,1148.3Z"/>
<path d="M211,1150.7 221.2,1156 225.2,1165.3 217.1,1162.9Z"/>
<path d="M202.9,1177.1 207.8,1177.5 213.1,1193.7 207,1191.3Z"/>
<path d="M144.1,1412.3 151,1411.5 152.2,1423.6 146.9,1430.5Z"/>
<path d="M292.2,1521 300.3,1506.8 304.4,1509.7 303.6,1523.1 299.5,1529.2Z"/>
<path d="M407.9,1455.3 414.8,1456.9 418,1470.3 425.3,1476.4 424.1,1493.4 414.8,1480.5 407.1,1464.2Z"/>
<path d="M456.6,1508.9 463.9,1491.8 474.8,1490.6 474,1506.8 467.5,1519Z"/>
<path d="M347,1549.4 353.9,1548.6 353.1,1558.4 356.3,1565.7 349,1561.6 344.2,1553.5Z"/>
<path d="M464.7,1648.9 470,1643.6 472.8,1655 470.8,1663.1 465.9,1657Z"/>
<path d="M489,1713.8 494.3,1701.6 500,1701.6 495.9,1709.8Z"/>
<path d="M509.3,1768.6 514.6,1767.8 517.5,1780.8 512.2,1780.8Z"/>
<path d="M547.1,1823.4 549.9,1824.6 551.9,1835.6 547.9,1834.4Z"/>
<path d="M414,1767.8 430.2,1738.2 424.1,1764.5 426.1,1784.8 442.4,1801.9 430.2,1790.9 420,1782.8Z"/>
<path d="M2510.8,664.4 2519.4,657 2525.5,659.5 2515.7,667.5Z"/>
<path d="M2537.6,660.7 2547.4,652.2 2551,659.5 2545,662.6Z"/>
<path d="M2610.1,407.6 2616.5,409.4 2617.4,414.9 2612,421.3 2609.2,414.9Z"/>
<path d="M2741.7,181 2743.5,191.9 2750.8,194.7 2753.6,188.3 2749,186.4 2748.1,181Z"/>
</g>
<g fill="none" stroke="#000" stroke-width="4.3" stroke-dasharray="4.3 6.75">
<path d="M320.6,188.3 324.7,189.5 365.3,204.5 405.8,218.7 465.9,238.2 534.1,257.3 584.4,271.5 657.5,288.5 738.6,306 817.8,322.2 926.5,339.6 1000,347.8 1053.5,358.7 1161,365.6 1327.4,374.1 1408.6,375"/>
<path d="M320.6,188.3 324.7,189.5 365.3,204.5 405.8,218.7 465.9,238.2 534.1,257.3 584.4,271.5 657.5,288.5 738.6,306 817.8,322.2 926.5,339.6 1000,347.8 1053.5,358.7 1161,365.6 1327.4,374.1 1408.6,375" stroke-dashoffset="3.7"/>
<path d="M657.5,288.5 738.6,306 817.8,322.2" stroke-dasharray="none"/>
<path d="M1408.6,375 1408.6,350.6 1420.8,352.6 1422.8,372.9 1428.9,389.2 1449.2,393.2 1469.5,402.1 1489.8,394 1510.1,401.3 1522.2,415.5 1534.4,412.3 1558.8,426.5 1575,420.8 1591.2,422.4 1615.6,420.8 1625.7,426.5 1639.9,425.7 1648.1,423.7"/>
<path d="M1408.6,375 1408.6,350.6 1420.8,352.6 1422.8,372.9 1428.9,389.2 1449.2,393.2 1469.5,402.1 1489.8,394 1510.1,401.3 1522.2,415.5 1534.4,412.3 1558.8,426.5 1575,420.8 1591.2,422.4 1615.6,420.8 1625.7,426.5 1639.9,425.7 1648.1,423.7" stroke-dashoffset="3.7"/>
<path d="M1648.1,423.7 1684.6,403.4 1838.8,470.3 1857.1,494.7"/>
<path d="M633.1,181.4 645.3,190.3 649.4,202.5 648.5,222.8 645.3,234.9 639.2,247.1 645.3,257.3 649.4,269.4 655.4,277.5 657.5,287.7"/>
<path d="M633.1,181.4 645.3,190.3 649.4,202.5 648.5,222.8 645.3,234.9 639.2,247.1 645.3,257.3 649.4,269.4 655.4,277.5 657.5,287.7" stroke-dashoffset="3.7"/>
<path d="M844.2,178.9 817.8,322.2"/>
<path d="M844.2,178.9 817.8,322.2" stroke-dashoffset="3.7"/>
<path d="M1163.1,178.9 1160.2,365.6"/>
<path d="M1163.1,178.9 1160.2,365.6" stroke-dashoffset="3.7"/>
<path d="M1408.6,178.9 1408.6,350.6"/>
<path d="M1408.6,178.9 1408.6,350.6" stroke-dashoffset="3.7"/>
<path d="M541.8,260.1 501.2,409.4 499.2,435.8"/>
<path d="M541.8,260.1 501.2,409.4 499.2,435.8" stroke-dashoffset="3.0"/>
<path d="M499.2,435.8 510.6,462.2 487,490.6 466.7,515 460.6,531.2 470.8,541.3 458.6,561.6 454.5,575.8 428.2,669.2"/>
<path d="M499.2,435.8 510.6,462.2 487,490.6 466.7,515 460.6,531.2 470.8,541.3 458.6,561.6 454.5,575.8 428.2,669.2" stroke-dashoffset="1.5"/>
<path d="M253.7,346.5 257.7,360.7 256.5,381 280,393.2 300.3,392.4 320.6,404.6 357.1,409.4 385.6,408.6 409.9,411.5 499.2,435.8"/>
<path d="M253.7,346.5 257.7,360.7 256.5,381 280,393.2 300.3,392.4 320.6,404.6 357.1,409.4 385.6,408.6 409.9,411.5 499.2,435.8" stroke-dashoffset="0"/>
<path d="M118.5,569.8 178.6,591.3 298.3,630.6 428.2,669.2 560.1,705.7 689.9,731.3"/>
<path d="M118.5,569.8 178.6,591.3 298.3,630.6 428.2,669.2 560.1,705.7 689.9,731.3" stroke-dashoffset="4.0"/>
<path d="M298.3,630.6 251.6,775.9 244.7,804.9 432.2,1110.1"/>
<path d="M298.3,630.6 251.6,775.9 244.7,804.9 432.2,1110.1" stroke-dashoffset="3.0"/>
<path d="M560.1,705.7 541.8,775.9 491.1,999.7 478.9,1048.4"/>
<path d="M560.1,705.7 541.8,775.9 491.1,999.7 478.9,1048.4" stroke-dashoffset="1.5"/>
<path d="M478.9,1048.4 468.8,1056.6 458.6,1045.2 446.4,1044.4 440.3,1056.6 438.3,1089 432.2,1110.1 436.3,1135.7 446.4,1156 426.1,1176.3 420,1198.6 403.8,1212.8 401.8,1225 409.9,1237.2 401.8,1250.6 385.6,1259.5"/>
<path d="M478.9,1048.4 468.8,1056.6 458.6,1045.2 446.4,1044.4 440.3,1056.6 438.3,1089 432.2,1110.1 436.3,1135.7 446.4,1156 426.1,1176.3 420,1198.6 403.8,1212.8 401.8,1225 409.9,1237.2 401.8,1250.6 385.6,1259.5" stroke-dashoffset="0"/>
<path d="M578.3,271.5 564.1,326.2 572.2,368.9 584.4,381 596.6,413.5 614,425.7 600.6,454.1 596.6,470.3 590.5,482.5 595.8,492.6 614.9,482.5 620.9,494.7 623,519 629.1,539.3 639.2,551.5 642.5,571 653.4,566.9 669.6,567.7 702.1,575 710.2,565.7 720.4,577.9"/>
<path d="M578.3,271.5 564.1,326.2 572.2,368.9 584.4,381 596.6,413.5 614,425.7 600.6,454.1 596.6,470.3 590.5,482.5 595.8,492.6 614.9,482.5 620.9,494.7 623,519 629.1,539.3 639.2,551.5 642.5,571 653.4,566.9 669.6,567.7 702.1,575 710.2,565.7 720.4,577.9" stroke-dashoffset="4.0"/>
<path d="M720.4,577.9 689.9,731.3 683.8,775.9 683.8,790.7"/>
<path d="M720.4,577.9 689.9,731.3 683.8,775.9 683.8,790.7" stroke-dashoffset="3.0"/>
<path d="M720.4,577.9 728.5,553.5 734.6,552.7 852.3,571.8 1000,595.3 1027.1,598.2"/>
<path d="M720.4,577.9 728.5,553.5 734.6,552.7 852.3,571.8 1000,595.3 1027.1,598.2" stroke-dashoffset="1.5"/>
<path d="M1053.5,358.7 1037.3,540.1 1027.1,598.2 1014.9,717.9 1008.8,775.9 1002.8,839.4"/>
<path d="M1053.5,358.7 1037.3,540.1 1027.1,598.2 1014.9,717.9 1008.8,775.9 1002.8,839.4" stroke-dashoffset="0"/>
<path d="M1037.3,540.1 1349.8,559.6"/>
<path d="M1037.3,540.1 1349.8,559.6" stroke-dashoffset="4.0"/>
<path d="M1014.9,717.9 1262.5,736.2 1282.8,747.1 1307.1,744.3 1327.4,754.4 1345.7,762.5"/>
<path d="M1014.9,717.9 1262.5,736.2 1282.8,747.1 1307.1,744.3 1327.4,754.4 1345.7,762.5" stroke-dashoffset="3.0"/>
<path d="M1327.4,374.1 1329.5,421.6 1338.8,454.1 1341.6,515 1349.8,539.3 1349.8,559.6 1337.6,577.9 1339.6,584 1353.8,596.1 1353.8,705.7 1349.8,708.6 1345.7,721.9 1353.8,734.1 1345.7,754.4 1345.7,762.5"/>
<path d="M1327.4,374.1 1329.5,421.6 1338.8,454.1 1341.6,515 1349.8,539.3 1349.8,559.6 1337.6,577.9 1339.6,584 1353.8,596.1 1353.8,705.7 1349.8,708.6 1345.7,721.9 1353.8,734.1 1345.7,754.4 1345.7,762.5" stroke-dashoffset="1.5"/>
<path d="M1349.8,708.6 1579.1,703.7"/>
<path d="M1349.8,708.6 1579.1,703.7" stroke-dashoffset="0"/>
<path d="M1534.4,508.9 1530.4,543.4 1526.3,551.5 1508,565.7 1506,575.8 1514.1,588 1512.1,628.6 1526.3,640.8 1546.6,653 1558.8,665.1 1579.1,677.3 1583.1,697.6 1589.2,713.8 1591.2,738.2 1599.4,750.4 1611.5,756.4 1619.6,766.6"/>
<path d="M1534.4,508.9 1530.4,543.4 1526.3,551.5 1508,565.7 1506,575.8 1514.1,588 1512.1,628.6 1526.3,640.8 1546.6,653 1558.8,665.1 1579.1,677.3 1583.1,697.6 1589.2,713.8 1591.2,738.2 1599.4,750.4 1611.5,756.4 1619.6,766.6" stroke-dashoffset="4.0"/>
<path d="M1619.6,760.5 1741.4,753.2"/>
<path d="M1619.6,760.5 1741.4,753.2" stroke-dashoffset="3.0"/>
<path d="M1587.2,512.9 1607.5,515 1623.7,529.2 1664.3,537.3 1692.7,541.3 1708.9,549.5 1721.1,559.6 1725.2,575.8 1735.3,594.1"/>
<path d="M1587.2,512.9 1607.5,515 1623.7,529.2 1664.3,537.3 1692.7,541.3 1708.9,549.5 1721.1,559.6 1725.2,575.8 1735.3,594.1" stroke-dashoffset="1.5"/>
<path d="M269.9,1229 385.6,1249.3"/>
<path d="M269.9,1229 385.6,1249.3" stroke-dashoffset="3.7"/>
<path d="M385.6,1260.7 523.5,1345.9 568.2,1375.7 716.3,1402.5 722.4,1375.7 807.6,1386.3"/>
<path d="M385.6,1260.7 523.5,1345.9 568.2,1375.7 716.3,1402.5 722.4,1375.7 807.6,1386.3" stroke-dashoffset="3.7"/>
<path d="M491.1,999.7 730.5,1048.4 1000,1085 1027.1,1088.2 1075.8,1091.1 1439,1105.3"/>
<path d="M491.1,999.7 730.5,1048.4 1000,1085 1027.1,1088.2 1075.8,1091.1 1439,1105.3" stroke-dashoffset="3.0"/>
<path d="M773.1,807 730.5,1048.4 681.8,1340.6 671.7,1395.2"/>
<path d="M773.1,807 730.5,1048.4 681.8,1340.6 671.7,1395.2" stroke-dashoffset="1.5"/>
<path d="M683.8,790.7 1000,839.4 1002.8,839.4 1094.1,848.8 1090,910.5 1075.8,1091.1"/>
<path d="M683.8,790.7 1000,839.4 1002.8,839.4 1094.1,848.8 1090,910.5 1075.8,1091.1" stroke-dashoffset="0"/>
<path d="M1090,910.5 1396.4,921.8"/>
<path d="M1090,910.5 1396.4,921.8" stroke-dashoffset="4.0"/>
<path d="M1027.1,1088.2 1023.9,1118.2 1171.2,1129.6 1165.1,1247.3"/>
<path d="M1027.1,1088.2 1023.9,1118.2 1171.2,1129.6 1165.1,1247.3" stroke-dashoffset="3.0"/>
<path d="M1023.9,1118.2 998.7,1345.9 992.6,1395.2 950,1391.2 803.6,1372.9"/>
<path d="M1023.9,1118.2 998.7,1345.9 992.6,1395.2 950,1391.2 803.6,1372.9" stroke-dashoffset="1.5"/>
<path d="M1165.1,1247.3 1181.3,1259.5 1197.6,1257.5 1207.7,1271.7 1234.1,1277.7 1242.2,1281.8 1260.5,1279.8 1264.5,1289.9 1274.7,1296 1284.8,1289.9 1299,1298 1311.2,1304.1 1319.3,1294 1335.6,1298 1351.8,1306.2 1368,1298 1390.3,1294 1400.5,1298 1410.6,1291.9 1424.8,1302.1 1437,1308.2 1449.2,1314.3 1471.5,1316.3 1473.5,1411.5 1485.7,1431.8 1495.9,1452 1501.9,1472.3 1493.8,1500.7 1491.8,1533.2 1485.7,1549.4"/>
<path d="M1165.1,1247.3 1181.3,1259.5 1197.6,1257.5 1207.7,1271.7 1234.1,1277.7 1242.2,1281.8 1260.5,1279.8 1264.5,1289.9 1274.7,1296 1284.8,1289.9 1299,1298 1311.2,1304.1 1319.3,1294 1335.6,1298 1351.8,1306.2 1368,1298 1390.3,1294 1400.5,1298 1410.6,1291.9 1424.8,1302.1 1437,1308.2 1449.2,1314.3 1471.5,1316.3 1473.5,1411.5 1485.7,1431.8 1495.9,1452 1501.9,1472.3 1493.8,1500.7 1491.8,1533.2 1485.7,1549.4" stroke-dashoffset="0"/>
<path d="M1264.5,740 1282.8,748.1 1307.1,744.9 1327.4,754.2 1345.7,762.3 1355.8,776.5 1359.9,792.8 1368,807 1370,827.3 1378.2,841.5 1380.2,878 1386.3,900.3 1396.4,907.2 1400.5,920.6 1422.8,930.7 1416.7,947 1424.8,963.2 1437,974.6 1439,1105.3 1441.1,1135.7 1449.2,1202.7 1448.4,1308.2"/>
<path d="M1264.5,740 1282.8,748.1 1307.1,744.9 1327.4,754.2 1345.7,762.3 1355.8,776.5 1359.9,792.8 1368,807 1370,827.3 1378.2,841.5 1380.2,878 1386.3,900.3 1396.4,907.2 1400.5,920.6 1422.8,930.7 1416.7,947 1424.8,963.2 1437,974.6 1439,1105.3 1441.1,1135.7 1449.2,1202.7 1448.4,1308.2" stroke-dashoffset="4.0"/>
<path d="M1386.3,885.3 1566.9,880 1577,888.1 1585.1,894.2"/>
<path d="M1386.3,885.3 1566.9,880 1577,888.1 1585.1,894.2" stroke-dashoffset="3.0"/>
<path d="M1441.1,1135.7 1658.2,1127.6 1666.3,1139.8 1652.1,1158 1684.6,1156"/>
<path d="M1441.1,1135.7 1658.2,1127.6 1666.3,1139.8 1652.1,1158 1684.6,1156" stroke-dashoffset="1.5"/>
<path d="M1591.2,740 1599.4,750.1 1611.5,756.2 1619.6,772.5 1637.9,782.6 1635.9,800.9 1627.8,817.1 1599.4,833.3 1605.4,849.6 1595.3,873.9 1585.1,888.1 1583.1,910.5 1589.2,930.7 1607.5,947 1619.6,959.2 1627.8,979.4 1652.1,981.5 1642,1016 1648.1,1028.1 1668.3,1040.3 1686.6,1054.5 1690.7,1076.9 1700.8,1091.1 1711,1101.2 1706.9,1117.4 1688.6,1125.6 1684.6,1156 1678.5,1174.3 1670.4,1194.5 1668.3,1210.8 1660.2,1220.9 1648.1,1239.2 1646,1257.5 1631.8,1271.7 1623.7,1287.9 1617.6,1308.2 1623.7,1328.5 1621.7,1345.9 1625.7,1370.9 1635.9,1387.1 1619.6,1415.5 1609.5,1443.9 1602.6,1471.5 1702.8,1466.2 1702.8,1484.5 1713,1504.8 1717,1512.9"/>
<path d="M1591.2,740 1599.4,750.1 1611.5,756.2 1619.6,772.5 1637.9,782.6 1635.9,800.9 1627.8,817.1 1599.4,833.3 1605.4,849.6 1595.3,873.9 1585.1,888.1 1583.1,910.5 1589.2,930.7 1607.5,947 1619.6,959.2 1627.8,979.4 1652.1,981.5 1642,1016 1648.1,1028.1 1668.3,1040.3 1686.6,1054.5 1690.7,1076.9 1700.8,1091.1 1711,1101.2 1706.9,1117.4 1688.6,1125.6 1684.6,1156 1678.5,1174.3 1670.4,1194.5 1668.3,1210.8 1660.2,1220.9 1648.1,1239.2 1646,1257.5 1631.8,1271.7 1623.7,1287.9 1617.6,1308.2 1623.7,1328.5 1621.7,1345.9 1625.7,1370.9 1635.9,1387.1 1619.6,1415.5 1609.5,1443.9 1602.6,1471.5 1702.8,1466.2 1702.8,1484.5 1713,1504.8 1717,1512.9" stroke-dashoffset="0"/>
<path d="M1473.5,1350.6 1619.6,1345.7"/>
<path d="M1473.5,1350.6 1619.6,1345.7" stroke-dashoffset="4.0"/>
<path d="M1759.7,800.9 1771.8,934.8 1769.8,951 1777.9,975.4 1769.8,995.7 1757.6,1011.9 1757.6,1040.3"/>
<path d="M1759.7,800.9 1771.8,934.8 1769.8,951 1777.9,975.4 1769.8,995.7 1757.6,1011.9 1757.6,1040.3" stroke-dashoffset="3.0"/>
<path d="M1706.9,1093.1 1717,1080.9 1741.4,1085 1739.4,1068.7 1755.6,1058.6 1757.6,1040.3 1777.9,1028.1 1798.2,1032.2 1814.4,1024.1 1828.7,1026.1 1838.8,1007.9 1855,1018 1863.1,999.7 1879.4,969.3 1903.7,963.2 1905.8,951 1901.7,940.9 1924,940.9 1932.5,953.1 1960.9,961.2 1979.1,961.2 1997.4,953.1 2017.7,967.3 2027.8,961.2 2031.9,942.9 2044.1,930.7 2048.1,914.5 2062.3,898.3 2080.6,880 2084.7,857.7 2088.7,833.3 2080.6,823.2"/>
<path d="M1706.9,1093.1 1717,1080.9 1741.4,1085 1739.4,1068.7 1755.6,1058.6 1757.6,1040.3 1777.9,1028.1 1798.2,1032.2 1814.4,1024.1 1828.7,1026.1 1838.8,1007.9 1855,1018 1863.1,999.7 1879.4,969.3 1903.7,963.2 1905.8,951 1901.7,940.9 1924,940.9 1932.5,953.1 1960.9,961.2 1979.1,961.2 1997.4,953.1 2017.7,967.3 2027.8,961.2 2031.9,942.9 2044.1,930.7 2048.1,914.5 2062.3,898.3 2080.6,880 2084.7,857.7 2088.7,833.3 2080.6,823.2" stroke-dashoffset="1.5"/>
<path d="M1883.4,780.6 1901.7,940.9"/>
<path d="M1883.4,780.6 1901.7,940.9" stroke-dashoffset="0"/>
<path d="M1794.2,792.8 1883.4,780.6 1950,772.5 1944.6,774.5"/>
<path d="M1794.2,792.8 1883.4,780.6 1950,772.5 1944.6,774.5" stroke-dashoffset="4.0"/>
<path d="M1690.7,1123.5 1757.6,1119.5 1761.7,1109.3 1950,1091.1 1981.2,1085 2070.5,1070.8 2352.5,1016"/>
<path d="M1690.7,1123.5 1757.6,1119.5 1761.7,1109.3 1950,1091.1 1981.2,1085 2070.5,1070.8 2352.5,1016" stroke-dashoffset="3.0"/>
<path d="M1664.3,1218.9 1769.8,1210.8 1895.6,1198.6 1950,1190.5 1960.9,1186.4 2021.8,1180.3 2056.2,1160 2123.2,1154 2139.4,1162.1 2141.5,1170.2 2198.3,1162.1 2261.2,1202.7"/>
<path d="M1664.3,1218.9 1769.8,1210.8 1895.6,1198.6 1950,1190.5 1960.9,1186.4 2021.8,1180.3 2056.2,1160 2123.2,1154 2139.4,1162.1 2141.5,1170.2 2198.3,1162.1 2261.2,1202.7" stroke-dashoffset="1.5"/>
<path d="M1769.8,1210.8 1769.8,1345.9 1769.8,1411.5 1780,1496.7"/>
<path d="M1769.8,1210.8 1769.8,1345.9 1769.8,1411.5 1780,1496.7" stroke-dashoffset="0"/>
<path d="M1895.6,1198.6 1924,1300.1 1940.3,1336.6 1952.8,1360.7 1946.7,1391.2 1952.8,1427.7 1958.8,1439.9 1967,1456.1 2115.1,1446 2123.2,1427.7 2147.6,1427.7"/>
<path d="M1895.6,1198.6 1924,1300.1 1940.3,1336.6 1952.8,1360.7 1946.7,1391.2 1952.8,1427.7 1958.8,1439.9 1967,1456.1 2115.1,1446 2123.2,1427.7 2147.6,1427.7" stroke-dashoffset="4.0"/>
<path d="M1832.7,1492.6 1830.7,1476.4 1820.5,1464.2 1822.6,1456.1 1950,1439.9 1958.8,1440.7"/>
<path d="M1832.7,1492.6 1830.7,1476.4 1820.5,1464.2 1822.6,1456.1 1950,1439.9 1958.8,1440.7" stroke-dashoffset="3.0"/>
<path d="M2115.1,1446 2117.1,1456.1"/>
<path d="M2115.1,1446 2117.1,1456.1" stroke-dashoffset="1.5"/>
<path d="M2021.8,1180.3 2011.6,1198.6 2040,1212.8 2058.3,1237.2 2078.6,1251.4 2096.8,1265.6 2107,1279.8 2121.2,1285.9 2133.4,1312.2 2147.6,1324.4 2153.7,1338.6 2163.8,1340.6"/>
<path d="M2021.8,1180.3 2011.6,1198.6 2040,1212.8 2058.3,1237.2 2078.6,1251.4 2096.8,1265.6 2107,1279.8 2121.2,1285.9 2133.4,1312.2 2147.6,1324.4 2153.7,1338.6 2163.8,1340.6" stroke-dashoffset="0"/>
<path d="M2076.5,1070.8 2074.5,1089 2062.3,1101.2 2038,1115.4 2021.8,1129.6 2001.5,1145.8 1977.1,1154 1960.9,1174.3 1960.9,1186.4"/>
<path d="M2076.5,1070.8 2074.5,1089 2062.3,1101.2 2038,1115.4 2021.8,1129.6 2001.5,1145.8 1977.1,1154 1960.9,1174.3 1960.9,1186.4" stroke-dashoffset="4.0"/>
<path d="M1981.2,1085 2050.2,1018 2038,1009.9 2015.7,985.5 2017.7,967.3"/>
<path d="M1981.2,1085 2050.2,1018 2038,1009.9 2015.7,985.5 2017.7,967.3" stroke-dashoffset="3.0"/>
<path d="M2050.2,1018 2060.3,1030.2 2074.5,1033 2086.7,1024.1 2107,1020 2131.3,1005.8 2135.4,987.6 2147.6,959.2 2153.7,934.8 2169.9,936.8 2180,914.5 2200.3,892.2 2202.4,869.9 2228.7,880 2245,869.9 2267.3,884.1 2273.4,894.2 2265.3,910.5 2267.3,920.6 2289.6,918.6"/>
<path d="M2050.2,1018 2060.3,1030.2 2074.5,1033 2086.7,1024.1 2107,1020 2131.3,1005.8 2135.4,987.6 2147.6,959.2 2153.7,934.8 2169.9,936.8 2180,914.5 2200.3,892.2 2202.4,869.9 2228.7,880 2245,869.9 2267.3,884.1 2273.4,894.2 2265.3,910.5 2267.3,920.6 2289.6,918.6" stroke-dashoffset="1.5"/>
<path d="M2145.5,861.8 2149.6,890.2 2159.7,888.1 2180,865.8 2202.4,861.8 2212.5,851.6 2224.7,857.7 2230.8,873.9 2228.7,880"/>
<path d="M2145.5,861.8 2149.6,890.2 2159.7,888.1 2180,865.8 2202.4,861.8 2212.5,851.6 2224.7,857.7 2230.8,873.9 2228.7,880" stroke-dashoffset="0"/>
<path d="M2072.5,740 2098.9,871.9 2145.5,861.8 2316,825.2 2324.1,815.1 2332.2,815.1"/>
<path d="M2072.5,740 2098.9,871.9 2145.5,861.8 2316,825.2 2324.1,815.1 2332.2,815.1" stroke-dashoffset="4.0"/>
<path d="M2324.1,837.4 2338.3,898.3 2366.7,892.2"/>
<path d="M2324.1,837.4 2338.3,898.3 2366.7,892.2" stroke-dashoffset="3.0"/>
<path d="M2309.9,689.5 2322.1,707.7 2336.3,713.8 2328.2,738.2 2332.2,754.4 2326.1,766.6 2340.3,775.9 2328.2,740 2326.1,760.3 2356.6,788.7 2346.4,800.9"/>
<path d="M2309.9,689.5 2322.1,707.7 2336.3,713.8 2328.2,738.2 2332.2,754.4 2326.1,766.6 2340.3,775.9 2328.2,740 2326.1,760.3 2356.6,788.7 2346.4,800.9" stroke-dashoffset="1.5"/>
<path d="M2111,713.8 2111,728 2224.7,703.7 2297.7,685.4 2309.9,689.5"/>
<path d="M2111,713.8 2111,728 2224.7,703.7 2297.7,685.4 2309.9,689.5" stroke-dashoffset="0"/>
<path d="M2336.3,713.8 2376.9,726"/>
<path d="M2336.3,713.8 2376.9,726" stroke-dashoffset="4.0"/>
<path d="M2070.5,734.1 2078.6,775.9"/>
<path d="M2070.5,734.1 2078.6,775.9" stroke-dashoffset="3.0"/>
<path d="M2338.3,490.6 2348.5,519 2352.5,543.4 2358.6,565.7 2366.7,571.8 2374.8,596.1 2380.9,616.4 2383,659 2387,689.5 2393.1,709.8 2389,717.9"/>
<path d="M2338.3,490.6 2348.5,519 2352.5,543.4 2358.6,565.7 2366.7,571.8 2374.8,596.1 2380.9,616.4 2383,659 2387,689.5 2393.1,709.8 2389,717.9" stroke-dashoffset="1.5"/>
<path d="M2380.9,616.4 2409.3,606.3 2464.1,594.1 2476.3,579.9 2482.4,575.8"/>
<path d="M2380.9,616.4 2409.3,606.3 2464.1,594.1 2476.3,579.9 2482.4,575.8" stroke-dashoffset="0"/>
<path d="M2383,659 2411.4,653 2456,638.8 2474.3,634.7 2482.4,663.1"/>
<path d="M2383,659 2411.4,653 2456,638.8 2474.3,634.7 2482.4,663.1" stroke-dashoffset="4.0"/>
<path d="M2456,638.8 2466.2,677.3"/>
<path d="M2456,638.8 2466.2,677.3" stroke-dashoffset="3.0"/>
<path d="M2413.4,464.2 2419.5,490.6 2407.3,508.9 2405.3,535.3 2405.3,559.6 2409.3,584 2409.3,606.3"/>
<path d="M2413.4,464.2 2419.5,490.6 2407.3,508.9 2405.3,535.3 2405.3,559.6 2409.3,584 2409.3,606.3" stroke-dashoffset="1.5"/>
<path d="M2431.7,450 2445.9,494.7 2460.1,531.2 2468.2,551.5 2480.4,559.6"/>
<path d="M2431.7,450 2445.9,494.7 2460.1,531.2 2468.2,551.5 2480.4,559.6" stroke-dashoffset="0"/>
<path d="M2281.5,500.8 2338.3,484.5 2413.4,464.2 2417.5,446 2431.7,441.9 2437.7,429.7 2435.7,421.6 2427.4,443 2434.7,436.8 2439.3,425.8 2438.4,420.3 2443.9,409.4 2448.4,394.8 2445.7,389.3 2442.9,374.7 2448.4,360 2443.9,345.4 2447.5,330.8 2454.8,308.9 2460.3,290.6 2469.4,289.7 2473.1,297.9 2478.6,301.6 2485.9,296.1 2498.7,284.2 2509.6,285.1 2524.3,292.4 2531.6,312.5 2538.9,330.8 2546.2,349.1 2551.7,363.7 2549.8,371 2559,372.8 2566.3,368.3 2571.8,376.5 2575.4,387.4 2580.9,394.8 2588.2,392.9"/>
<path d="M2281.5,500.8 2338.3,484.5 2413.4,464.2 2417.5,446 2431.7,441.9 2437.7,429.7 2435.7,421.6 2427.4,443 2434.7,436.8 2439.3,425.8 2438.4,420.3 2443.9,409.4 2448.4,394.8 2445.7,389.3 2442.9,374.7 2448.4,360 2443.9,345.4 2447.5,330.8 2454.8,308.9 2460.3,290.6 2469.4,289.7 2473.1,297.9 2478.6,301.6 2485.9,296.1 2498.7,284.2 2509.6,285.1 2524.3,292.4 2531.6,312.5 2538.9,330.8 2546.2,349.1 2551.7,363.7 2549.8,371 2559,372.8 2566.3,368.3 2571.8,376.5 2575.4,387.4 2580.9,394.8 2588.2,392.9" stroke-dashoffset="3.7"/>
<path d="M2498.7,284.2 2487.7,279.6 2491.4,270.5 2485.9,250.4 2493.2,244.9 2511.5,238.5 2522.4,243.1 2531.6,238.5 2540.7,234 2544.4,225.7"/>
<path d="M2498.7,284.2 2487.7,279.6 2491.4,270.5 2485.9,250.4 2493.2,244.9 2511.5,238.5 2522.4,243.1 2531.6,238.5 2540.7,234 2544.4,225.7" stroke-dashoffset="3.7"/>
<path d="M2694.2,296.1 2692.4,297.9 2690.5,305.2"/>
<path d="M2694.2,296.1 2692.4,297.9 2690.5,305.2" stroke-dashoffset="3.7"/>
<path d="M2007.5,184.2 2021.8,251.2 2038,332.3 2050.2,401.3 2062.3,421.6 2090.7,458.1 2115.1,462.2 2143.5,462.2 2159.7,470.3 2180,474.4 2196.3,486.6 2208.4,489.8 2224.7,488.6 2245,478.4 2265.3,466.3 2277.4,463 2287.6,464.2 2287.6,480.5 2289.6,490.6"/>
<path d="M2007.5,184.2 2021.8,251.2 2038,332.3 2050.2,401.3 2062.3,421.6 2090.7,458.1 2115.1,462.2 2143.5,462.2 2159.7,470.3 2180,474.4 2196.3,486.6 2208.4,489.8 2224.7,488.6 2245,478.4 2265.3,466.3 2277.4,463 2287.6,464.2 2287.6,480.5 2289.6,490.6" stroke-dashoffset="3.7"/>
<path d="M807.6,1386.3 815.7,1395.2 825.9,1411.5 842.1,1423.6 858.4,1443.9 878.7,1464.2 886.8,1476.4 892.9,1500.7 894.9,1521 907.1,1539.3 925.3,1555.5 945.6,1567.7 963.9,1581.1 974,1579.9 990.3,1557.6 998.7,1545.4 1025.1,1532.4 1043.3,1539.3 1069.7,1542.1 1083.9,1557.6 1100.2,1575.8 1112.3,1594.1 1120.5,1614.4 1128.6,1636.7 1140.7,1655 1150.9,1671.2 1167.1,1685.4 1171.2,1719.9 1181.3,1736.1 1187.4,1758.5 1209.7,1770.6 1234.1,1782.8 1262.5,1788.9 1284.8,1799 1299,1790.9"/>
<path d="M803.6,1372.9 992.3,1395.2"/>
<path d="M803.6,1372.9 992.3,1395.2" stroke-dashoffset="3.0"/>
<path d="M1859.4,494.7 1900,527.1 1948.7,555.6 1964.9,616.4 1977.1,683.4 1975.1,713.8 1967,721.9 1954.8,750.4"/>
<path d="M1954.8,750.4 2001.5,738.2 2070.5,713.8 2119.2,673.2 2131.3,648.9 2143.5,624.5 2224.7,596.1 2236.9,561.6 2245,543.4 2259.2,519 2273.4,502.8 2281.5,500.8"/>
<path d="M237.7,191.3 246.2,199.2 254.7,206.5 263.2,213.2 271.8,219.9 282.7,223.6 292.5,221.7 297.3,202.9 308.3,198 304.6,188.3 303.4,181"/>
<path d="M237.7,191.3 246.2,199.2 254.7,206.5 263.2,213.2 271.8,219.9 282.7,223.6 292.5,221.7 297.3,202.9 308.3,198 304.6,188.3 303.4,181" stroke-dashoffset="4.0"/>
<path d="M1540.5,508.9 1558.8,494.7 1575,478.4 1591.2,466.3 1595.3,450 1623.7,435.8 1648.1,423.7 1656.2,397.3 1680.5,372.9 1696.8,364.8 1721.1,368.9 1757.6,367.6 1765.7,381 1777.9,401.3 1790.1,411.5 1789,412.2 1811,411 1831.7,409.7 1826.8,421.9 1830.4,431.7 1845.1,445.1 1840.2,465.8 1859.7,470.7 1857.2,480.4 1869.4,490.1 1852.4,493.8 1835.3,495 1830.4,480.4 1813.4,480.4 1796.3,481.6 1795.1,493.8 1779.3,497.5 1762.2,507.2 1745.2,497.5 1730.5,492.6 1728.1,482.8 1706.2,485.3 1692.8,481.6 1691.6,473.1 1696.4,470.7 1715.9,452.4 1711.1,448.7 1694,458.5 1676.9,473.1 1657.5,485.3 1640.4,493.8 1625.8,499.9 1620.9,509.6 1608.7,513.3 1596.5,507.2 1591.7,497.5 1606.3,486.5 1591.7,482.8 1574.6,492.6 1560,497.5 1558.8,502.8 1540.5,508.9"/>
<path d="M1847.5,532.8 1846.3,546.2 1842.6,555.9 1830.4,570.5 1828,580.3 1813.4,582.7 1796.3,582.7 1796.3,614.4 1793.9,643.6 1790.2,655.8 1793.9,682.6 1803.6,702.1 1811,724 1811,741.1 1806.1,764 1810.4,748.1 1802.3,772.5 1790.1,788.7 1769.8,800.9 1757.6,796.8 1745.5,772.5 1745.2,764 1741.5,750.8 1740.3,721.6 1730.5,716.7 1730.5,702.1 1735.4,702.1 1737.9,668 1742.7,643.6 1745.2,614.4 1745.2,582.7 1747.6,565.7 1762.2,568.1 1772,558.4 1779.3,546.2 1796.3,536.4 1813.4,531.6 1847.5,532.8"/>
<path d="M1847.5,532.8 1864.6,532.8 1884,526.7 1874.3,514.5 1884,502.3 1901.1,507.2 1925.5,502.3 1949.8,499.9 1983.9,499.9 2010.7,504.8 2022.9,509.6 2037.5,524.3 2052.2,531.6 2059.5,546.2 2074.1,558.4 2064.3,570.5 2061.9,582.7 2044.8,581.5 2025.4,575.4 2010.7,575.4 2005.9,558.4 1993.7,548.6 1983.9,553.5 1998.6,565.7 2010.7,585.2 2003.4,602.2 1998.6,619.3 2001,638.8 2005.9,658.3 1998.6,670.4 1986.4,683.8 1976.6,683.8 1971.8,675.3 1964.4,653.4 1959.6,641.2 1949.8,632.7 1937.6,633.9 1930.3,641.2 1920.6,655.8 1913.3,661.9 1903.5,657 1903.5,646.1 1910.8,640 1918.2,621.7 1923,602.2 1918.2,582.7 1913.3,570.5 1913.3,558.4 1898.7,553.5 1881.6,548.6 1864.6,541.3 1847.5,532.8"/>
<path d="M1901.1,514.5 1925.5,512.6 1949.8,509.6 1974.2,508.4 1982.7,516.9 1981.5,531.6 1971.8,532.8 1949.8,526.7 1925.5,523 1903.5,520.6 1901.1,514.5"/>
<path d="M1969.3,719.2 1983.9,721.6 1983.9,733.8 1971.8,735 1962,726.5 1969.3,719.2"/>
<path d="M1954.7,758.2 1974.2,750.8 1986.4,741.1 2010.7,719.2 2022.9,707 2037.5,700.9 2066.8,700.9 2076.5,687.5 2096,680.2 2127.7,670.4 2137.4,668 2138.6,675.3 2120.4,692.4 2103.3,702.1 2083.8,724 2059.5,736.2 2035.1,750.8 2022.9,764 2001.5,756.2 1987.3,776.5 1969,778.6 1950.7,780.6 1948.7,764.4 1954.7,758.2"/>
<path d="M2090.7,644.8 2102.9,624.5 2127.3,608.3 2159.7,594.1 2184.1,584 2208.4,571.8 2236.9,561.6 2240.9,579.9 2240.9,600.2 2224.7,616.4 2220.6,630.6 2184.1,632.7 2151.6,636.7 2119.2,642.8 2102.9,655 2090.7,653 2090.7,644.8"/>
</g>
</g>
<rect x="30.4" y="178.4" width="2790.1" height="1763.1" fill="none" stroke="#000" stroke-width="3.33"/>
<rect x="2994.3" y="1596.9" width="74.2" height="134.9" fill="#053061"/>
<rect x="2994.3" y="1462.6" width="74.2" height="134.9" fill="#246aae"/>
<rect x="2994.3" y="1328.2" width="74.2" height="134.9" fill="#529dc8"/>
<rect x="2994.3" y="1193.9" width="74.2" height="134.9" fill="#a7d0e4"/>
<rect x="2994.3" y="1059.6" width="74.2" height="134.9" fill="#e1edf3"/>
<rect x="2994.3" y="925.3" width="74.2" height="134.9" fill="#fae8de"/>
<rect x="2994.3" y="791" width="74.2" height="134.9" fill="#f7b799"/>
<rect x="2994.3" y="656.6" width="74.2" height="134.9" fill="#dd7059"/>
<rect x="2994.3" y="522.3" width="74.2" height="134.9" fill="#b72230"/>
<rect x="2994.3" y="388" width="74.2" height="134.9" fill="#67001f"/>
<path d="M2994.3,388.8L3031.4,321.1L3068.5,388.8Z" fill="#67001f"/>
<path d="M2994.3,1731L3031.4,1798.7L3068.5,1731Z" fill="#053061"/>
<path d="M2994.3,388.3L3031.4,321.1L3068.5,388.3L3068.5,1731.5L3031.4,1798.7L2994.3,1731.5Z" fill="none" stroke="#000" stroke-width="3.33" stroke-linejoin="miter"/>
<rect x="3068.5" y="1729.8" width="14.6" height="3.33" fill="#000"/>
<rect x="3068.5" y="1595.5" width="14.6" height="3.33" fill="#000"/>
<rect x="3068.5" y="1461.2" width="14.6" height="3.33" fill="#000"/>
<rect x="3068.5" y="1326.9" width="14.6" height="3.33" fill="#000"/>
<rect x="3068.5" y="1192.5" width="14.6" height="3.33" fill="#000"/>
<rect x="3068.5" y="1058.2" width="14.6" height="3.33" fill="#000"/>
<rect x="3068.5" y="923.9" width="14.6" height="3.33" fill="#000"/>
<rect x="3068.5" y="789.6" width="14.6" height="3.33" fill="#000"/>
<rect x="3068.5" y="655.3" width="14.6" height="3.33" fill="#000"/>
<rect x="3068.5" y="521" width="14.6" height="3.33" fill="#000"/>
<rect x="3068.5" y="386.6" width="14.6" height="3.33" fill="#000"/>
</svg>
<div class="t" style="left:903.50px;top:19.53px;font-size:67.88px;transform:scaleX(1.0728)">Hit Rate (Below Normal): CWRF</div>
<div class="t" style="left:724.35px;top:95.93px;font-size:67.88px;transform:scaleX(1.0621)">Variable: PRAVG, Season: AMJ, Start: 0220</div>
<div class="t" style="left:3097.70px;top:1711.18px;font-size:42.43px;transform:scaleX(1.1233)">0.0</div>
<div class="t" style="left:3097.70px;top:1576.86px;font-size:42.43px;transform:scaleX(1.1233)">0.1</div>
<div class="t" style="left:3097.70px;top:1442.54px;font-size:42.43px;transform:scaleX(1.1233)">0.2</div>
<div class="t" style="left:3097.70px;top:1308.22px;font-size:42.43px;transform:scaleX(1.1233)">0.3</div>
<div class="t" style="left:3097.70px;top:1173.90px;font-size:42.43px;transform:scaleX(1.1233)">0.4</div>
<div class="t" style="left:3097.70px;top:1039.58px;font-size:42.43px;transform:scaleX(1.1233)">0.5</div>
<div class="t" style="left:3097.70px;top:905.26px;font-size:42.43px;transform:scaleX(1.1233)">0.6</div>
<div class="t" style="left:3097.70px;top:770.94px;font-size:42.43px;transform:scaleX(1.1233)">0.7</div>
<div class="t" style="left:3097.70px;top:636.62px;font-size:42.43px;transform:scaleX(1.1233)">0.8</div>
<div class="t" style="left:3097.70px;top:502.30px;font-size:42.43px;transform:scaleX(1.1233)">0.9</div>
<div class="t" style="left:3097.70px;top:367.98px;font-size:42.43px;transform:scaleX(1.1233)">1.0</div>
<div class="t" style="left:3211.80px;top:1146.05px;font-size:42.43px;transform:rotate(-90deg) scaleX(1.0968) translateY(-35.92px)">Hit Rate</div>
</body></html>
